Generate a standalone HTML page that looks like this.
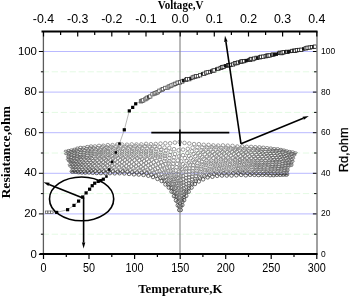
<!DOCTYPE html>
<html><head><meta charset="utf-8"><style>html,body{margin:0;padding:0;background:#fff;overflow:hidden}svg{display:block}</style></head>
<body><svg width="350" height="296" viewBox="0 0 350 296">
<rect width="350" height="296" fill="#fff"/>
<line x1="44" x2="316" y1="213.9" y2="213.9" stroke="#b9b9ff" stroke-width="1"/>
<line x1="44" x2="316" y1="173.3" y2="173.3" stroke="#b9b9ff" stroke-width="1"/>
<line x1="44" x2="316" y1="132.7" y2="132.7" stroke="#b9b9ff" stroke-width="1"/>
<line x1="44" x2="316" y1="92.1" y2="92.1" stroke="#b9b9ff" stroke-width="1"/>
<line x1="44" x2="316" y1="51.5" y2="51.5" stroke="#b9b9ff" stroke-width="1"/>
<line x1="44" x2="316" y1="234.2" y2="234.2" stroke="#e4fae4" stroke-width="1" stroke-dasharray="6.3 2.67" stroke-dashoffset="1.27"/>
<line x1="44" x2="316" y1="193.6" y2="193.6" stroke="#e4fae4" stroke-width="1" stroke-dasharray="6.3 2.67" stroke-dashoffset="1.27"/>
<line x1="44" x2="316" y1="153.0" y2="153.0" stroke="#e4fae4" stroke-width="1" stroke-dasharray="6.3 2.67" stroke-dashoffset="1.27"/>
<line x1="44" x2="316" y1="112.4" y2="112.4" stroke="#e4fae4" stroke-width="1" stroke-dasharray="6.3 2.67" stroke-dashoffset="1.27"/>
<line x1="44" x2="316" y1="71.8" y2="71.8" stroke="#e4fae4" stroke-width="1" stroke-dasharray="6.3 2.67" stroke-dashoffset="1.27"/>
<ellipse cx="65.9" cy="151.1" rx="1.85" ry="0.90" fill="none" stroke="#5e5e5e" stroke-width="0.75"/>
<ellipse cx="68.7" cy="150.3" rx="1.85" ry="0.90" fill="none" stroke="#5e5e5e" stroke-width="0.75"/>
<ellipse cx="71.5" cy="149.8" rx="1.85" ry="0.94" fill="none" stroke="#5e5e5e" stroke-width="0.75"/>
<ellipse cx="74.4" cy="149.2" rx="1.85" ry="1.00" fill="none" stroke="#5e5e5e" stroke-width="0.75"/>
<ellipse cx="77.4" cy="148.1" rx="1.85" ry="1.08" fill="none" stroke="#5e5e5e" stroke-width="0.75"/>
<ellipse cx="80.5" cy="147.4" rx="1.85" ry="1.15" fill="none" stroke="#5e5e5e" stroke-width="0.75"/>
<ellipse cx="83.8" cy="147.5" rx="1.85" ry="1.23" fill="none" stroke="#666" stroke-width="0.75"/>
<ellipse cx="87.3" cy="146.7" rx="1.85" ry="1.31" fill="none" stroke="#666" stroke-width="0.75"/>
<ellipse cx="91.0" cy="146.2" rx="1.85" ry="1.40" fill="none" stroke="#666" stroke-width="0.75"/>
<ellipse cx="94.9" cy="146.2" rx="1.85" ry="1.49" fill="none" stroke="#727272" stroke-width="0.75"/>
<ellipse cx="99.0" cy="145.7" rx="1.85" ry="1.59" fill="none" stroke="#727272" stroke-width="0.75"/>
<ellipse cx="103.3" cy="145.7" rx="1.85" ry="1.69" fill="none" stroke="#727272" stroke-width="0.75"/>
<ellipse cx="107.8" cy="145.2" rx="1.85" ry="1.80" fill="none" stroke="#727272" stroke-width="0.75"/>
<circle cx="112.5" cy="145.1" r="1.8" fill="none" stroke="#7c7c7c" stroke-width="0.75"/>
<circle cx="117.3" cy="144.5" r="1.8" fill="none" stroke="#7c7c7c" stroke-width="0.75"/>
<circle cx="122.1" cy="144.6" r="1.8" fill="none" stroke="#7c7c7c" stroke-width="0.75"/>
<circle cx="126.9" cy="144.7" r="1.8" fill="none" stroke="#7c7c7c" stroke-width="0.75"/>
<circle cx="131.7" cy="144.4" r="1.8" fill="none" stroke="#7c7c7c" stroke-width="0.75"/>
<circle cx="136.5" cy="144.5" r="1.8" fill="none" stroke="#7c7c7c" stroke-width="0.75"/>
<circle cx="141.3" cy="144.4" r="1.8" fill="none" stroke="#7c7c7c" stroke-width="0.75"/>
<circle cx="146.1" cy="143.9" r="1.8" fill="none" stroke="#7c7c7c" stroke-width="0.75"/>
<circle cx="150.9" cy="144.2" r="1.8" fill="none" stroke="#7c7c7c" stroke-width="0.75"/>
<circle cx="155.7" cy="144.0" r="1.8" fill="none" stroke="#7c7c7c" stroke-width="0.75"/>
<circle cx="160.5" cy="143.6" r="1.8" fill="none" stroke="#7c7c7c" stroke-width="0.75"/>
<circle cx="165.3" cy="143.2" r="1.8" fill="none" stroke="#7c7c7c" stroke-width="0.75"/>
<circle cx="170.1" cy="143.3" r="1.8" fill="none" stroke="#7c7c7c" stroke-width="0.75"/>
<circle cx="174.9" cy="142.6" r="1.8" fill="none" stroke="#7c7c7c" stroke-width="0.75"/>
<circle cx="179.7" cy="142.0" r="1.8" fill="none" stroke="#7c7c7c" stroke-width="0.75"/>
<circle cx="184.5" cy="142.9" r="1.8" fill="none" stroke="#7c7c7c" stroke-width="0.75"/>
<circle cx="189.3" cy="143.5" r="1.8" fill="none" stroke="#7c7c7c" stroke-width="0.75"/>
<circle cx="194.1" cy="144.1" r="1.8" fill="none" stroke="#7c7c7c" stroke-width="0.75"/>
<circle cx="198.9" cy="144.2" r="1.8" fill="none" stroke="#7c7c7c" stroke-width="0.75"/>
<circle cx="203.7" cy="144.8" r="1.8" fill="none" stroke="#7c7c7c" stroke-width="0.75"/>
<circle cx="208.5" cy="144.9" r="1.8" fill="none" stroke="#7c7c7c" stroke-width="0.75"/>
<circle cx="213.3" cy="145.4" r="1.8" fill="none" stroke="#7c7c7c" stroke-width="0.75"/>
<circle cx="218.1" cy="145.6" r="1.8" fill="none" stroke="#7c7c7c" stroke-width="0.75"/>
<circle cx="222.9" cy="145.4" r="1.8" fill="none" stroke="#7c7c7c" stroke-width="0.75"/>
<circle cx="227.7" cy="145.7" r="1.8" fill="none" stroke="#7c7c7c" stroke-width="0.75"/>
<circle cx="232.5" cy="145.9" r="1.8" fill="none" stroke="#7c7c7c" stroke-width="0.75"/>
<ellipse cx="237.3" cy="146.6" rx="1.85" ry="1.81" fill="none" stroke="#727272" stroke-width="0.75"/>
<ellipse cx="242.1" cy="146.4" rx="1.85" ry="1.72" fill="none" stroke="#727272" stroke-width="0.75"/>
<ellipse cx="246.7" cy="146.7" rx="1.85" ry="1.63" fill="none" stroke="#727272" stroke-width="0.75"/>
<ellipse cx="251.1" cy="146.7" rx="1.85" ry="1.54" fill="none" stroke="#727272" stroke-width="0.75"/>
<ellipse cx="255.3" cy="147.0" rx="1.85" ry="1.46" fill="none" stroke="#666" stroke-width="0.75"/>
<ellipse cx="259.4" cy="147.1" rx="1.85" ry="1.39" fill="none" stroke="#666" stroke-width="0.75"/>
<ellipse cx="263.3" cy="147.4" rx="1.85" ry="1.31" fill="none" stroke="#666" stroke-width="0.75"/>
<ellipse cx="267.1" cy="147.8" rx="1.85" ry="1.24" fill="none" stroke="#666" stroke-width="0.75"/>
<ellipse cx="270.7" cy="148.1" rx="1.85" ry="1.17" fill="none" stroke="#5e5e5e" stroke-width="0.75"/>
<ellipse cx="274.2" cy="148.6" rx="1.85" ry="1.11" fill="none" stroke="#5e5e5e" stroke-width="0.75"/>
<ellipse cx="277.6" cy="148.7" rx="1.85" ry="1.04" fill="none" stroke="#5e5e5e" stroke-width="0.75"/>
<ellipse cx="280.8" cy="149.3" rx="1.85" ry="0.98" fill="none" stroke="#5e5e5e" stroke-width="0.75"/>
<ellipse cx="283.8" cy="149.9" rx="1.85" ry="0.92" fill="none" stroke="#5e5e5e" stroke-width="0.75"/>
<ellipse cx="286.7" cy="150.7" rx="1.85" ry="0.90" fill="none" stroke="#5e5e5e" stroke-width="0.75"/>
<ellipse cx="289.6" cy="151.3" rx="1.85" ry="0.90" fill="none" stroke="#5e5e5e" stroke-width="0.75"/>
<ellipse cx="292.5" cy="151.7" rx="1.85" ry="0.90" fill="none" stroke="#5e5e5e" stroke-width="0.75"/>
<ellipse cx="295.4" cy="152.7" rx="1.85" ry="0.90" fill="none" stroke="#5e5e5e" stroke-width="0.75"/>
<ellipse cx="68.1" cy="152.3" rx="1.85" ry="0.90" fill="none" stroke="#5e5e5e" stroke-width="0.75"/>
<ellipse cx="70.9" cy="151.4" rx="1.85" ry="0.92" fill="none" stroke="#5e5e5e" stroke-width="0.75"/>
<ellipse cx="73.7" cy="150.9" rx="1.85" ry="0.99" fill="none" stroke="#5e5e5e" stroke-width="0.75"/>
<ellipse cx="76.7" cy="150.0" rx="1.85" ry="1.06" fill="none" stroke="#5e5e5e" stroke-width="0.75"/>
<ellipse cx="79.8" cy="149.7" rx="1.85" ry="1.13" fill="none" stroke="#5e5e5e" stroke-width="0.75"/>
<ellipse cx="83.1" cy="149.1" rx="1.85" ry="1.21" fill="none" stroke="#666" stroke-width="0.75"/>
<ellipse cx="86.6" cy="148.5" rx="1.85" ry="1.30" fill="none" stroke="#666" stroke-width="0.75"/>
<ellipse cx="90.3" cy="148.0" rx="1.85" ry="1.38" fill="none" stroke="#666" stroke-width="0.75"/>
<ellipse cx="94.1" cy="148.0" rx="1.85" ry="1.47" fill="none" stroke="#727272" stroke-width="0.75"/>
<ellipse cx="98.2" cy="147.9" rx="1.85" ry="1.57" fill="none" stroke="#727272" stroke-width="0.75"/>
<ellipse cx="102.5" cy="147.1" rx="1.85" ry="1.67" fill="none" stroke="#727272" stroke-width="0.75"/>
<ellipse cx="107.0" cy="147.3" rx="1.85" ry="1.78" fill="none" stroke="#727272" stroke-width="0.75"/>
<circle cx="111.7" cy="146.9" r="1.8" fill="none" stroke="#7c7c7c" stroke-width="0.75"/>
<circle cx="116.5" cy="146.5" r="1.8" fill="none" stroke="#7c7c7c" stroke-width="0.75"/>
<circle cx="121.3" cy="146.4" r="1.8" fill="none" stroke="#7c7c7c" stroke-width="0.75"/>
<circle cx="126.1" cy="146.6" r="1.8" fill="none" stroke="#7c7c7c" stroke-width="0.75"/>
<circle cx="130.9" cy="146.7" r="1.8" fill="none" stroke="#7c7c7c" stroke-width="0.75"/>
<circle cx="135.7" cy="146.1" r="1.8" fill="none" stroke="#7c7c7c" stroke-width="0.75"/>
<circle cx="140.5" cy="146.5" r="1.8" fill="none" stroke="#7c7c7c" stroke-width="0.75"/>
<circle cx="145.3" cy="146.2" r="1.8" fill="none" stroke="#7c7c7c" stroke-width="0.75"/>
<circle cx="150.1" cy="146.6" r="1.8" fill="none" stroke="#7c7c7c" stroke-width="0.75"/>
<circle cx="154.9" cy="146.5" r="1.8" fill="none" stroke="#7c7c7c" stroke-width="0.75"/>
<circle cx="159.7" cy="147.1" r="1.8" fill="none" stroke="#7c7c7c" stroke-width="0.75"/>
<circle cx="164.5" cy="147.6" r="1.8" fill="none" stroke="#7c7c7c" stroke-width="0.75"/>
<circle cx="169.3" cy="147.9" r="1.8" fill="none" stroke="#7c7c7c" stroke-width="0.75"/>
<circle cx="174.0" cy="149.2" r="1.8" fill="none" stroke="#7c7c7c" stroke-width="0.75"/>
<circle cx="178.6" cy="150.3" r="1.8" fill="none" stroke="#7c7c7c" stroke-width="0.75"/>
<circle cx="183.1" cy="149.6" r="1.8" fill="none" stroke="#7c7c7c" stroke-width="0.75"/>
<circle cx="187.8" cy="148.8" r="1.8" fill="none" stroke="#7c7c7c" stroke-width="0.75"/>
<circle cx="192.6" cy="147.7" r="1.8" fill="none" stroke="#7c7c7c" stroke-width="0.75"/>
<circle cx="197.4" cy="147.4" r="1.8" fill="none" stroke="#7c7c7c" stroke-width="0.75"/>
<circle cx="202.2" cy="147.4" r="1.8" fill="none" stroke="#7c7c7c" stroke-width="0.75"/>
<circle cx="207.0" cy="147.5" r="1.8" fill="none" stroke="#7c7c7c" stroke-width="0.75"/>
<circle cx="211.8" cy="147.2" r="1.8" fill="none" stroke="#7c7c7c" stroke-width="0.75"/>
<circle cx="216.6" cy="147.3" r="1.8" fill="none" stroke="#7c7c7c" stroke-width="0.75"/>
<circle cx="221.4" cy="147.9" r="1.8" fill="none" stroke="#7c7c7c" stroke-width="0.75"/>
<circle cx="226.2" cy="147.7" r="1.8" fill="none" stroke="#7c7c7c" stroke-width="0.75"/>
<circle cx="231.0" cy="148.3" r="1.8" fill="none" stroke="#7c7c7c" stroke-width="0.75"/>
<ellipse cx="235.8" cy="148.4" rx="1.85" ry="1.83" fill="none" stroke="#727272" stroke-width="0.75"/>
<ellipse cx="240.6" cy="148.3" rx="1.85" ry="1.74" fill="none" stroke="#727272" stroke-width="0.75"/>
<ellipse cx="245.2" cy="148.5" rx="1.85" ry="1.66" fill="none" stroke="#727272" stroke-width="0.75"/>
<ellipse cx="249.7" cy="148.7" rx="1.85" ry="1.57" fill="none" stroke="#727272" stroke-width="0.75"/>
<ellipse cx="254.0" cy="148.9" rx="1.85" ry="1.49" fill="none" stroke="#727272" stroke-width="0.75"/>
<ellipse cx="258.1" cy="149.1" rx="1.85" ry="1.41" fill="none" stroke="#666" stroke-width="0.75"/>
<ellipse cx="262.1" cy="149.3" rx="1.85" ry="1.33" fill="none" stroke="#666" stroke-width="0.75"/>
<ellipse cx="265.9" cy="149.6" rx="1.85" ry="1.26" fill="none" stroke="#666" stroke-width="0.75"/>
<ellipse cx="269.6" cy="150.1" rx="1.85" ry="1.19" fill="none" stroke="#666" stroke-width="0.75"/>
<ellipse cx="273.1" cy="150.1" rx="1.85" ry="1.13" fill="none" stroke="#5e5e5e" stroke-width="0.75"/>
<ellipse cx="276.5" cy="150.3" rx="1.85" ry="1.06" fill="none" stroke="#5e5e5e" stroke-width="0.75"/>
<ellipse cx="279.8" cy="150.7" rx="1.85" ry="1.00" fill="none" stroke="#5e5e5e" stroke-width="0.75"/>
<ellipse cx="282.9" cy="151.1" rx="1.85" ry="0.94" fill="none" stroke="#5e5e5e" stroke-width="0.75"/>
<ellipse cx="285.9" cy="151.8" rx="1.85" ry="0.90" fill="none" stroke="#5e5e5e" stroke-width="0.75"/>
<ellipse cx="288.8" cy="152.9" rx="1.85" ry="0.90" fill="none" stroke="#5e5e5e" stroke-width="0.75"/>
<ellipse cx="291.7" cy="153.3" rx="1.85" ry="0.90" fill="none" stroke="#5e5e5e" stroke-width="0.75"/>
<ellipse cx="294.6" cy="154.0" rx="1.85" ry="0.90" fill="none" stroke="#5e5e5e" stroke-width="0.75"/>
<ellipse cx="66.2" cy="153.8" rx="1.85" ry="0.90" fill="none" stroke="#5e5e5e" stroke-width="0.75"/>
<ellipse cx="69.0" cy="153.4" rx="1.85" ry="0.90" fill="none" stroke="#5e5e5e" stroke-width="0.75"/>
<ellipse cx="71.8" cy="152.5" rx="1.85" ry="0.94" fill="none" stroke="#5e5e5e" stroke-width="0.75"/>
<ellipse cx="74.7" cy="152.2" rx="1.85" ry="1.01" fill="none" stroke="#5e5e5e" stroke-width="0.75"/>
<ellipse cx="77.7" cy="151.7" rx="1.85" ry="1.08" fill="none" stroke="#5e5e5e" stroke-width="0.75"/>
<ellipse cx="80.9" cy="150.8" rx="1.85" ry="1.16" fill="none" stroke="#5e5e5e" stroke-width="0.75"/>
<ellipse cx="84.3" cy="150.7" rx="1.85" ry="1.24" fill="none" stroke="#666" stroke-width="0.75"/>
<ellipse cx="87.8" cy="150.2" rx="1.85" ry="1.32" fill="none" stroke="#666" stroke-width="0.75"/>
<ellipse cx="91.5" cy="150.0" rx="1.85" ry="1.41" fill="none" stroke="#666" stroke-width="0.75"/>
<ellipse cx="95.4" cy="149.4" rx="1.85" ry="1.50" fill="none" stroke="#727272" stroke-width="0.75"/>
<ellipse cx="99.5" cy="149.5" rx="1.85" ry="1.60" fill="none" stroke="#727272" stroke-width="0.75"/>
<ellipse cx="103.8" cy="149.3" rx="1.85" ry="1.70" fill="none" stroke="#727272" stroke-width="0.75"/>
<ellipse cx="108.3" cy="148.7" rx="1.85" ry="1.81" fill="none" stroke="#727272" stroke-width="0.75"/>
<circle cx="113.1" cy="148.5" r="1.8" fill="none" stroke="#7c7c7c" stroke-width="0.75"/>
<circle cx="117.9" cy="148.7" r="1.8" fill="none" stroke="#7c7c7c" stroke-width="0.75"/>
<circle cx="122.7" cy="148.7" r="1.8" fill="none" stroke="#7c7c7c" stroke-width="0.75"/>
<circle cx="127.5" cy="148.3" r="1.8" fill="none" stroke="#7c7c7c" stroke-width="0.75"/>
<circle cx="132.3" cy="148.4" r="1.8" fill="none" stroke="#7c7c7c" stroke-width="0.75"/>
<circle cx="137.1" cy="148.5" r="1.8" fill="none" stroke="#7c7c7c" stroke-width="0.75"/>
<circle cx="141.9" cy="148.4" r="1.8" fill="none" stroke="#7c7c7c" stroke-width="0.75"/>
<circle cx="146.7" cy="148.5" r="1.8" fill="none" stroke="#7c7c7c" stroke-width="0.75"/>
<circle cx="151.5" cy="148.7" r="1.8" fill="none" stroke="#7c7c7c" stroke-width="0.75"/>
<circle cx="156.3" cy="149.1" r="1.8" fill="none" stroke="#7c7c7c" stroke-width="0.75"/>
<circle cx="161.1" cy="149.8" r="1.8" fill="none" stroke="#7c7c7c" stroke-width="0.75"/>
<circle cx="165.9" cy="150.5" r="1.8" fill="none" stroke="#7c7c7c" stroke-width="0.75"/>
<circle cx="170.6" cy="151.9" r="1.8" fill="none" stroke="#7c7c7c" stroke-width="0.75"/>
<circle cx="175.0" cy="154.0" r="1.8" fill="none" stroke="#7c7c7c" stroke-width="0.75"/>
<circle cx="179.1" cy="156.3" r="1.8" fill="none" stroke="#7c7c7c" stroke-width="0.75"/>
<circle cx="183.0" cy="155.2" r="1.8" fill="none" stroke="#7c7c7c" stroke-width="0.75"/>
<circle cx="187.3" cy="153.1" r="1.8" fill="none" stroke="#7c7c7c" stroke-width="0.75"/>
<circle cx="191.9" cy="151.4" r="1.8" fill="none" stroke="#7c7c7c" stroke-width="0.75"/>
<circle cx="196.7" cy="150.4" r="1.8" fill="none" stroke="#7c7c7c" stroke-width="0.75"/>
<circle cx="201.5" cy="150.2" r="1.8" fill="none" stroke="#7c7c7c" stroke-width="0.75"/>
<circle cx="206.3" cy="149.6" r="1.8" fill="none" stroke="#7c7c7c" stroke-width="0.75"/>
<circle cx="211.1" cy="149.5" r="1.8" fill="none" stroke="#7c7c7c" stroke-width="0.75"/>
<circle cx="215.9" cy="149.6" r="1.8" fill="none" stroke="#7c7c7c" stroke-width="0.75"/>
<circle cx="220.7" cy="149.8" r="1.8" fill="none" stroke="#7c7c7c" stroke-width="0.75"/>
<circle cx="225.5" cy="149.6" r="1.8" fill="none" stroke="#7c7c7c" stroke-width="0.75"/>
<circle cx="230.3" cy="149.8" r="1.8" fill="none" stroke="#7c7c7c" stroke-width="0.75"/>
<ellipse cx="235.1" cy="150.0" rx="1.85" ry="1.85" fill="none" stroke="#727272" stroke-width="0.75"/>
<ellipse cx="239.9" cy="150.4" rx="1.85" ry="1.76" fill="none" stroke="#727272" stroke-width="0.75"/>
<ellipse cx="244.6" cy="150.4" rx="1.85" ry="1.67" fill="none" stroke="#727272" stroke-width="0.75"/>
<ellipse cx="249.1" cy="150.8" rx="1.85" ry="1.58" fill="none" stroke="#727272" stroke-width="0.75"/>
<ellipse cx="253.4" cy="150.5" rx="1.85" ry="1.50" fill="none" stroke="#727272" stroke-width="0.75"/>
<ellipse cx="257.5" cy="150.8" rx="1.85" ry="1.42" fill="none" stroke="#666" stroke-width="0.75"/>
<ellipse cx="261.5" cy="151.1" rx="1.85" ry="1.35" fill="none" stroke="#666" stroke-width="0.75"/>
<ellipse cx="265.3" cy="151.6" rx="1.85" ry="1.27" fill="none" stroke="#666" stroke-width="0.75"/>
<ellipse cx="269.0" cy="151.6" rx="1.85" ry="1.20" fill="none" stroke="#666" stroke-width="0.75"/>
<ellipse cx="272.5" cy="151.7" rx="1.85" ry="1.14" fill="none" stroke="#5e5e5e" stroke-width="0.75"/>
<ellipse cx="275.9" cy="151.8" rx="1.85" ry="1.07" fill="none" stroke="#5e5e5e" stroke-width="0.75"/>
<ellipse cx="279.2" cy="152.3" rx="1.85" ry="1.01" fill="none" stroke="#5e5e5e" stroke-width="0.75"/>
<ellipse cx="282.3" cy="152.7" rx="1.85" ry="0.95" fill="none" stroke="#5e5e5e" stroke-width="0.75"/>
<ellipse cx="285.3" cy="153.7" rx="1.85" ry="0.90" fill="none" stroke="#5e5e5e" stroke-width="0.75"/>
<ellipse cx="288.2" cy="154.3" rx="1.85" ry="0.90" fill="none" stroke="#5e5e5e" stroke-width="0.75"/>
<ellipse cx="291.1" cy="154.6" rx="1.85" ry="0.90" fill="none" stroke="#5e5e5e" stroke-width="0.75"/>
<ellipse cx="294.0" cy="155.2" rx="1.85" ry="0.90" fill="none" stroke="#5e5e5e" stroke-width="0.75"/>
<ellipse cx="68.6" cy="155.0" rx="1.85" ry="0.90" fill="none" stroke="#5e5e5e" stroke-width="0.75"/>
<ellipse cx="71.4" cy="154.5" rx="1.85" ry="0.93" fill="none" stroke="#5e5e5e" stroke-width="0.75"/>
<ellipse cx="74.3" cy="153.7" rx="1.85" ry="1.00" fill="none" stroke="#5e5e5e" stroke-width="0.75"/>
<ellipse cx="77.3" cy="153.1" rx="1.85" ry="1.07" fill="none" stroke="#5e5e5e" stroke-width="0.75"/>
<ellipse cx="80.5" cy="152.6" rx="1.85" ry="1.15" fill="none" stroke="#5e5e5e" stroke-width="0.75"/>
<ellipse cx="83.9" cy="152.6" rx="1.85" ry="1.23" fill="none" stroke="#666" stroke-width="0.75"/>
<ellipse cx="87.4" cy="151.9" rx="1.85" ry="1.31" fill="none" stroke="#666" stroke-width="0.75"/>
<ellipse cx="91.1" cy="151.6" rx="1.85" ry="1.40" fill="none" stroke="#666" stroke-width="0.75"/>
<ellipse cx="95.0" cy="151.3" rx="1.85" ry="1.49" fill="none" stroke="#727272" stroke-width="0.75"/>
<ellipse cx="99.1" cy="151.1" rx="1.85" ry="1.59" fill="none" stroke="#727272" stroke-width="0.75"/>
<ellipse cx="103.4" cy="151.0" rx="1.85" ry="1.69" fill="none" stroke="#727272" stroke-width="0.75"/>
<ellipse cx="107.9" cy="151.1" rx="1.85" ry="1.80" fill="none" stroke="#727272" stroke-width="0.75"/>
<circle cx="112.6" cy="150.5" r="1.8" fill="none" stroke="#7c7c7c" stroke-width="0.75"/>
<circle cx="117.4" cy="150.2" r="1.8" fill="none" stroke="#7c7c7c" stroke-width="0.75"/>
<circle cx="122.2" cy="150.7" r="1.8" fill="none" stroke="#7c7c7c" stroke-width="0.75"/>
<circle cx="127.0" cy="150.6" r="1.8" fill="none" stroke="#7c7c7c" stroke-width="0.75"/>
<circle cx="131.8" cy="150.7" r="1.8" fill="none" stroke="#7c7c7c" stroke-width="0.75"/>
<circle cx="136.6" cy="150.4" r="1.8" fill="none" stroke="#7c7c7c" stroke-width="0.75"/>
<circle cx="141.4" cy="150.8" r="1.8" fill="none" stroke="#7c7c7c" stroke-width="0.75"/>
<circle cx="146.2" cy="151.0" r="1.8" fill="none" stroke="#7c7c7c" stroke-width="0.75"/>
<circle cx="151.0" cy="150.9" r="1.8" fill="none" stroke="#7c7c7c" stroke-width="0.75"/>
<circle cx="155.8" cy="151.6" r="1.8" fill="none" stroke="#7c7c7c" stroke-width="0.75"/>
<circle cx="160.6" cy="152.4" r="1.8" fill="none" stroke="#7c7c7c" stroke-width="0.75"/>
<circle cx="165.3" cy="153.5" r="1.8" fill="none" stroke="#7c7c7c" stroke-width="0.75"/>
<circle cx="169.8" cy="155.1" r="1.8" fill="none" stroke="#7c7c7c" stroke-width="0.75"/>
<circle cx="174.0" cy="157.3" r="1.8" fill="none" stroke="#7c7c7c" stroke-width="0.75"/>
<circle cx="177.8" cy="160.4" r="1.8" fill="none" stroke="#7c7c7c" stroke-width="0.75"/>
<circle cx="181.2" cy="161.3" r="1.8" fill="none" stroke="#7c7c7c" stroke-width="0.75"/>
<circle cx="184.9" cy="158.1" r="1.8" fill="none" stroke="#7c7c7c" stroke-width="0.75"/>
<circle cx="189.1" cy="155.9" r="1.8" fill="none" stroke="#7c7c7c" stroke-width="0.75"/>
<circle cx="193.6" cy="154.0" r="1.8" fill="none" stroke="#7c7c7c" stroke-width="0.75"/>
<circle cx="198.3" cy="153.2" r="1.8" fill="none" stroke="#7c7c7c" stroke-width="0.75"/>
<circle cx="203.1" cy="152.0" r="1.8" fill="none" stroke="#7c7c7c" stroke-width="0.75"/>
<circle cx="207.9" cy="152.2" r="1.8" fill="none" stroke="#7c7c7c" stroke-width="0.75"/>
<circle cx="212.7" cy="151.9" r="1.8" fill="none" stroke="#7c7c7c" stroke-width="0.75"/>
<circle cx="217.5" cy="152.0" r="1.8" fill="none" stroke="#7c7c7c" stroke-width="0.75"/>
<circle cx="222.3" cy="152.0" r="1.8" fill="none" stroke="#7c7c7c" stroke-width="0.75"/>
<circle cx="227.1" cy="152.1" r="1.8" fill="none" stroke="#7c7c7c" stroke-width="0.75"/>
<circle cx="231.9" cy="152.0" r="1.8" fill="none" stroke="#7c7c7c" stroke-width="0.75"/>
<ellipse cx="236.7" cy="151.8" rx="1.85" ry="1.82" fill="none" stroke="#727272" stroke-width="0.75"/>
<ellipse cx="241.5" cy="152.4" rx="1.85" ry="1.73" fill="none" stroke="#727272" stroke-width="0.75"/>
<ellipse cx="246.1" cy="152.2" rx="1.85" ry="1.64" fill="none" stroke="#727272" stroke-width="0.75"/>
<ellipse cx="250.5" cy="152.4" rx="1.85" ry="1.56" fill="none" stroke="#727272" stroke-width="0.75"/>
<ellipse cx="254.8" cy="152.7" rx="1.85" ry="1.47" fill="none" stroke="#727272" stroke-width="0.75"/>
<ellipse cx="258.9" cy="152.8" rx="1.85" ry="1.40" fill="none" stroke="#666" stroke-width="0.75"/>
<ellipse cx="262.8" cy="153.0" rx="1.85" ry="1.32" fill="none" stroke="#666" stroke-width="0.75"/>
<ellipse cx="266.6" cy="153.5" rx="1.85" ry="1.25" fill="none" stroke="#666" stroke-width="0.75"/>
<ellipse cx="270.2" cy="153.6" rx="1.85" ry="1.18" fill="none" stroke="#5e5e5e" stroke-width="0.75"/>
<ellipse cx="273.7" cy="153.6" rx="1.85" ry="1.11" fill="none" stroke="#5e5e5e" stroke-width="0.75"/>
<ellipse cx="277.1" cy="153.8" rx="1.85" ry="1.05" fill="none" stroke="#5e5e5e" stroke-width="0.75"/>
<ellipse cx="280.3" cy="154.4" rx="1.85" ry="0.99" fill="none" stroke="#5e5e5e" stroke-width="0.75"/>
<ellipse cx="283.4" cy="154.8" rx="1.85" ry="0.93" fill="none" stroke="#5e5e5e" stroke-width="0.75"/>
<ellipse cx="286.4" cy="155.6" rx="1.85" ry="0.90" fill="none" stroke="#5e5e5e" stroke-width="0.75"/>
<ellipse cx="289.3" cy="155.9" rx="1.85" ry="0.90" fill="none" stroke="#5e5e5e" stroke-width="0.75"/>
<ellipse cx="292.2" cy="156.4" rx="1.85" ry="0.90" fill="none" stroke="#5e5e5e" stroke-width="0.75"/>
<ellipse cx="68.4" cy="156.6" rx="1.85" ry="0.90" fill="none" stroke="#5e5e5e" stroke-width="0.75"/>
<ellipse cx="71.2" cy="155.7" rx="1.85" ry="0.93" fill="none" stroke="#5e5e5e" stroke-width="0.75"/>
<ellipse cx="74.1" cy="155.6" rx="1.85" ry="1.00" fill="none" stroke="#5e5e5e" stroke-width="0.75"/>
<ellipse cx="77.1" cy="155.2" rx="1.85" ry="1.07" fill="none" stroke="#5e5e5e" stroke-width="0.75"/>
<ellipse cx="80.3" cy="154.6" rx="1.85" ry="1.14" fill="none" stroke="#5e5e5e" stroke-width="0.75"/>
<ellipse cx="83.7" cy="154.3" rx="1.85" ry="1.22" fill="none" stroke="#666" stroke-width="0.75"/>
<ellipse cx="87.2" cy="153.5" rx="1.85" ry="1.31" fill="none" stroke="#666" stroke-width="0.75"/>
<ellipse cx="90.9" cy="153.5" rx="1.85" ry="1.40" fill="none" stroke="#666" stroke-width="0.75"/>
<ellipse cx="94.8" cy="153.4" rx="1.85" ry="1.49" fill="none" stroke="#727272" stroke-width="0.75"/>
<ellipse cx="98.9" cy="152.7" rx="1.85" ry="1.59" fill="none" stroke="#727272" stroke-width="0.75"/>
<ellipse cx="103.2" cy="152.7" rx="1.85" ry="1.69" fill="none" stroke="#727272" stroke-width="0.75"/>
<ellipse cx="107.7" cy="152.6" rx="1.85" ry="1.79" fill="none" stroke="#727272" stroke-width="0.75"/>
<circle cx="112.4" cy="152.6" r="1.8" fill="none" stroke="#7c7c7c" stroke-width="0.75"/>
<circle cx="117.2" cy="152.4" r="1.8" fill="none" stroke="#7c7c7c" stroke-width="0.75"/>
<circle cx="122.0" cy="152.3" r="1.8" fill="none" stroke="#7c7c7c" stroke-width="0.75"/>
<circle cx="126.8" cy="152.5" r="1.8" fill="none" stroke="#7c7c7c" stroke-width="0.75"/>
<circle cx="131.6" cy="152.1" r="1.8" fill="none" stroke="#7c7c7c" stroke-width="0.75"/>
<circle cx="136.4" cy="152.2" r="1.8" fill="none" stroke="#7c7c7c" stroke-width="0.75"/>
<circle cx="141.2" cy="152.4" r="1.8" fill="none" stroke="#7c7c7c" stroke-width="0.75"/>
<circle cx="146.0" cy="152.6" r="1.8" fill="none" stroke="#7c7c7c" stroke-width="0.75"/>
<circle cx="150.8" cy="152.9" r="1.8" fill="none" stroke="#7c7c7c" stroke-width="0.75"/>
<circle cx="155.6" cy="154.0" r="1.8" fill="none" stroke="#7c7c7c" stroke-width="0.75"/>
<circle cx="160.4" cy="154.9" r="1.8" fill="none" stroke="#7c7c7c" stroke-width="0.75"/>
<circle cx="165.0" cy="155.8" r="1.8" fill="none" stroke="#7c7c7c" stroke-width="0.75"/>
<circle cx="169.4" cy="158.0" r="1.8" fill="none" stroke="#7c7c7c" stroke-width="0.75"/>
<circle cx="173.5" cy="160.6" r="1.8" fill="none" stroke="#7c7c7c" stroke-width="0.75"/>
<circle cx="177.0" cy="163.9" r="1.8" fill="none" stroke="#7c7c7c" stroke-width="0.75"/>
<circle cx="180.0" cy="167.7" r="1.8" fill="none" stroke="#7c7c7c" stroke-width="0.75"/>
<circle cx="183.1" cy="164.2" r="1.8" fill="none" stroke="#7c7c7c" stroke-width="0.75"/>
<circle cx="186.7" cy="160.9" r="1.8" fill="none" stroke="#7c7c7c" stroke-width="0.75"/>
<circle cx="190.8" cy="158.2" r="1.8" fill="none" stroke="#7c7c7c" stroke-width="0.75"/>
<circle cx="195.3" cy="156.2" r="1.8" fill="none" stroke="#7c7c7c" stroke-width="0.75"/>
<circle cx="200.0" cy="155.1" r="1.8" fill="none" stroke="#7c7c7c" stroke-width="0.75"/>
<circle cx="204.8" cy="154.2" r="1.8" fill="none" stroke="#7c7c7c" stroke-width="0.75"/>
<circle cx="209.6" cy="154.1" r="1.8" fill="none" stroke="#7c7c7c" stroke-width="0.75"/>
<circle cx="214.4" cy="154.0" r="1.8" fill="none" stroke="#7c7c7c" stroke-width="0.75"/>
<circle cx="219.2" cy="153.7" r="1.8" fill="none" stroke="#7c7c7c" stroke-width="0.75"/>
<circle cx="224.0" cy="153.5" r="1.8" fill="none" stroke="#7c7c7c" stroke-width="0.75"/>
<circle cx="228.8" cy="153.6" r="1.8" fill="none" stroke="#7c7c7c" stroke-width="0.75"/>
<circle cx="233.6" cy="153.8" r="1.8" fill="none" stroke="#7c7c7c" stroke-width="0.75"/>
<ellipse cx="238.4" cy="154.1" rx="1.85" ry="1.79" fill="none" stroke="#727272" stroke-width="0.75"/>
<ellipse cx="243.1" cy="154.3" rx="1.85" ry="1.70" fill="none" stroke="#727272" stroke-width="0.75"/>
<ellipse cx="247.6" cy="154.2" rx="1.85" ry="1.61" fill="none" stroke="#727272" stroke-width="0.75"/>
<ellipse cx="252.0" cy="154.6" rx="1.85" ry="1.53" fill="none" stroke="#727272" stroke-width="0.75"/>
<ellipse cx="256.2" cy="154.6" rx="1.85" ry="1.45" fill="none" stroke="#666" stroke-width="0.75"/>
<ellipse cx="260.2" cy="154.7" rx="1.85" ry="1.37" fill="none" stroke="#666" stroke-width="0.75"/>
<ellipse cx="264.1" cy="154.9" rx="1.85" ry="1.30" fill="none" stroke="#666" stroke-width="0.75"/>
<ellipse cx="267.8" cy="155.2" rx="1.85" ry="1.23" fill="none" stroke="#666" stroke-width="0.75"/>
<ellipse cx="271.4" cy="155.5" rx="1.85" ry="1.16" fill="none" stroke="#5e5e5e" stroke-width="0.75"/>
<ellipse cx="274.9" cy="155.6" rx="1.85" ry="1.09" fill="none" stroke="#5e5e5e" stroke-width="0.75"/>
<ellipse cx="278.2" cy="155.9" rx="1.85" ry="1.03" fill="none" stroke="#5e5e5e" stroke-width="0.75"/>
<ellipse cx="281.4" cy="156.2" rx="1.85" ry="0.97" fill="none" stroke="#5e5e5e" stroke-width="0.75"/>
<ellipse cx="284.4" cy="156.6" rx="1.85" ry="0.91" fill="none" stroke="#5e5e5e" stroke-width="0.75"/>
<ellipse cx="287.3" cy="157.3" rx="1.85" ry="0.90" fill="none" stroke="#5e5e5e" stroke-width="0.75"/>
<ellipse cx="290.2" cy="157.9" rx="1.85" ry="0.90" fill="none" stroke="#5e5e5e" stroke-width="0.75"/>
<ellipse cx="293.1" cy="158.1" rx="1.85" ry="0.90" fill="none" stroke="#5e5e5e" stroke-width="0.75"/>
<ellipse cx="68.5" cy="157.8" rx="1.85" ry="0.90" fill="none" stroke="#5e5e5e" stroke-width="0.75"/>
<ellipse cx="71.3" cy="157.6" rx="1.85" ry="0.93" fill="none" stroke="#5e5e5e" stroke-width="0.75"/>
<ellipse cx="74.2" cy="157.2" rx="1.85" ry="1.00" fill="none" stroke="#5e5e5e" stroke-width="0.75"/>
<ellipse cx="77.2" cy="156.4" rx="1.85" ry="1.07" fill="none" stroke="#5e5e5e" stroke-width="0.75"/>
<ellipse cx="80.4" cy="156.3" rx="1.85" ry="1.15" fill="none" stroke="#5e5e5e" stroke-width="0.75"/>
<ellipse cx="83.8" cy="156.0" rx="1.85" ry="1.23" fill="none" stroke="#666" stroke-width="0.75"/>
<ellipse cx="87.3" cy="155.4" rx="1.85" ry="1.31" fill="none" stroke="#666" stroke-width="0.75"/>
<ellipse cx="91.0" cy="155.2" rx="1.85" ry="1.40" fill="none" stroke="#666" stroke-width="0.75"/>
<ellipse cx="94.9" cy="154.7" rx="1.85" ry="1.49" fill="none" stroke="#727272" stroke-width="0.75"/>
<ellipse cx="99.0" cy="155.0" rx="1.85" ry="1.59" fill="none" stroke="#727272" stroke-width="0.75"/>
<ellipse cx="103.3" cy="154.8" rx="1.85" ry="1.69" fill="none" stroke="#727272" stroke-width="0.75"/>
<ellipse cx="107.8" cy="154.8" rx="1.85" ry="1.80" fill="none" stroke="#727272" stroke-width="0.75"/>
<circle cx="112.5" cy="154.6" r="1.8" fill="none" stroke="#7c7c7c" stroke-width="0.75"/>
<circle cx="117.3" cy="154.4" r="1.8" fill="none" stroke="#7c7c7c" stroke-width="0.75"/>
<circle cx="122.1" cy="154.4" r="1.8" fill="none" stroke="#7c7c7c" stroke-width="0.75"/>
<circle cx="126.9" cy="154.3" r="1.8" fill="none" stroke="#7c7c7c" stroke-width="0.75"/>
<circle cx="131.7" cy="154.1" r="1.8" fill="none" stroke="#7c7c7c" stroke-width="0.75"/>
<circle cx="136.5" cy="154.5" r="1.8" fill="none" stroke="#7c7c7c" stroke-width="0.75"/>
<circle cx="141.3" cy="154.3" r="1.8" fill="none" stroke="#7c7c7c" stroke-width="0.75"/>
<circle cx="146.1" cy="154.7" r="1.8" fill="none" stroke="#7c7c7c" stroke-width="0.75"/>
<circle cx="150.9" cy="155.5" r="1.8" fill="none" stroke="#7c7c7c" stroke-width="0.75"/>
<circle cx="155.7" cy="155.8" r="1.8" fill="none" stroke="#7c7c7c" stroke-width="0.75"/>
<circle cx="160.4" cy="156.9" r="1.8" fill="none" stroke="#7c7c7c" stroke-width="0.75"/>
<circle cx="165.0" cy="158.5" r="1.8" fill="none" stroke="#7c7c7c" stroke-width="0.75"/>
<circle cx="169.3" cy="161.3" r="1.8" fill="none" stroke="#7c7c7c" stroke-width="0.75"/>
<circle cx="173.2" cy="163.8" r="1.8" fill="none" stroke="#7c7c7c" stroke-width="0.75"/>
<circle cx="176.5" cy="167.3" r="1.8" fill="none" stroke="#7c7c7c" stroke-width="0.75"/>
<circle cx="179.3" cy="171.7" r="1.8" fill="none" stroke="#7c7c7c" stroke-width="0.75"/>
<circle cx="182.0" cy="169.3" r="1.8" fill="none" stroke="#7c7c7c" stroke-width="0.75"/>
<circle cx="185.1" cy="166.0" r="1.8" fill="none" stroke="#7c7c7c" stroke-width="0.75"/>
<circle cx="188.8" cy="162.7" r="1.8" fill="none" stroke="#7c7c7c" stroke-width="0.75"/>
<circle cx="193.0" cy="160.3" r="1.8" fill="none" stroke="#7c7c7c" stroke-width="0.75"/>
<circle cx="197.5" cy="158.6" r="1.8" fill="none" stroke="#7c7c7c" stroke-width="0.75"/>
<circle cx="202.2" cy="157.2" r="1.8" fill="none" stroke="#7c7c7c" stroke-width="0.75"/>
<circle cx="207.0" cy="156.6" r="1.8" fill="none" stroke="#7c7c7c" stroke-width="0.75"/>
<circle cx="211.8" cy="155.7" r="1.8" fill="none" stroke="#7c7c7c" stroke-width="0.75"/>
<circle cx="216.6" cy="156.0" r="1.8" fill="none" stroke="#7c7c7c" stroke-width="0.75"/>
<circle cx="221.4" cy="155.8" r="1.8" fill="none" stroke="#7c7c7c" stroke-width="0.75"/>
<circle cx="226.2" cy="155.9" r="1.8" fill="none" stroke="#7c7c7c" stroke-width="0.75"/>
<circle cx="231.0" cy="155.6" r="1.8" fill="none" stroke="#7c7c7c" stroke-width="0.75"/>
<ellipse cx="235.8" cy="156.1" rx="1.85" ry="1.83" fill="none" stroke="#727272" stroke-width="0.75"/>
<ellipse cx="240.6" cy="156.3" rx="1.85" ry="1.74" fill="none" stroke="#727272" stroke-width="0.75"/>
<ellipse cx="245.2" cy="155.9" rx="1.85" ry="1.66" fill="none" stroke="#727272" stroke-width="0.75"/>
<ellipse cx="249.7" cy="156.2" rx="1.85" ry="1.57" fill="none" stroke="#727272" stroke-width="0.75"/>
<ellipse cx="254.0" cy="156.4" rx="1.85" ry="1.49" fill="none" stroke="#727272" stroke-width="0.75"/>
<ellipse cx="258.1" cy="156.7" rx="1.85" ry="1.41" fill="none" stroke="#666" stroke-width="0.75"/>
<ellipse cx="262.1" cy="156.5" rx="1.85" ry="1.33" fill="none" stroke="#666" stroke-width="0.75"/>
<ellipse cx="265.9" cy="156.7" rx="1.85" ry="1.26" fill="none" stroke="#666" stroke-width="0.75"/>
<ellipse cx="269.6" cy="157.0" rx="1.85" ry="1.19" fill="none" stroke="#666" stroke-width="0.75"/>
<ellipse cx="273.1" cy="157.4" rx="1.85" ry="1.13" fill="none" stroke="#5e5e5e" stroke-width="0.75"/>
<ellipse cx="276.5" cy="157.7" rx="1.85" ry="1.06" fill="none" stroke="#5e5e5e" stroke-width="0.75"/>
<ellipse cx="279.8" cy="157.6" rx="1.85" ry="1.00" fill="none" stroke="#5e5e5e" stroke-width="0.75"/>
<ellipse cx="282.9" cy="158.1" rx="1.85" ry="0.94" fill="none" stroke="#5e5e5e" stroke-width="0.75"/>
<ellipse cx="285.9" cy="158.6" rx="1.85" ry="0.90" fill="none" stroke="#5e5e5e" stroke-width="0.75"/>
<ellipse cx="288.8" cy="159.1" rx="1.85" ry="0.90" fill="none" stroke="#5e5e5e" stroke-width="0.75"/>
<ellipse cx="291.7" cy="159.6" rx="1.85" ry="0.90" fill="none" stroke="#5e5e5e" stroke-width="0.75"/>
<ellipse cx="68.1" cy="159.4" rx="1.85" ry="0.90" fill="none" stroke="#5e5e5e" stroke-width="0.75"/>
<ellipse cx="70.9" cy="159.3" rx="1.85" ry="0.92" fill="none" stroke="#5e5e5e" stroke-width="0.75"/>
<ellipse cx="73.8" cy="158.5" rx="1.85" ry="0.99" fill="none" stroke="#5e5e5e" stroke-width="0.75"/>
<ellipse cx="76.8" cy="158.3" rx="1.85" ry="1.06" fill="none" stroke="#5e5e5e" stroke-width="0.75"/>
<ellipse cx="80.0" cy="157.6" rx="1.85" ry="1.14" fill="none" stroke="#5e5e5e" stroke-width="0.75"/>
<ellipse cx="83.3" cy="157.6" rx="1.85" ry="1.22" fill="none" stroke="#666" stroke-width="0.75"/>
<ellipse cx="86.8" cy="157.4" rx="1.85" ry="1.30" fill="none" stroke="#666" stroke-width="0.75"/>
<ellipse cx="90.5" cy="157.1" rx="1.85" ry="1.39" fill="none" stroke="#666" stroke-width="0.75"/>
<ellipse cx="94.4" cy="156.8" rx="1.85" ry="1.48" fill="none" stroke="#727272" stroke-width="0.75"/>
<ellipse cx="98.5" cy="156.6" rx="1.85" ry="1.58" fill="none" stroke="#727272" stroke-width="0.75"/>
<ellipse cx="102.8" cy="156.6" rx="1.85" ry="1.68" fill="none" stroke="#727272" stroke-width="0.75"/>
<ellipse cx="107.3" cy="156.7" rx="1.85" ry="1.79" fill="none" stroke="#727272" stroke-width="0.75"/>
<circle cx="112.0" cy="156.1" r="1.8" fill="none" stroke="#7c7c7c" stroke-width="0.75"/>
<circle cx="116.8" cy="156.0" r="1.8" fill="none" stroke="#7c7c7c" stroke-width="0.75"/>
<circle cx="121.6" cy="156.3" r="1.8" fill="none" stroke="#7c7c7c" stroke-width="0.75"/>
<circle cx="126.4" cy="156.5" r="1.8" fill="none" stroke="#7c7c7c" stroke-width="0.75"/>
<circle cx="131.2" cy="156.3" r="1.8" fill="none" stroke="#7c7c7c" stroke-width="0.75"/>
<circle cx="136.0" cy="156.4" r="1.8" fill="none" stroke="#7c7c7c" stroke-width="0.75"/>
<circle cx="140.8" cy="156.8" r="1.8" fill="none" stroke="#7c7c7c" stroke-width="0.75"/>
<circle cx="145.6" cy="156.7" r="1.8" fill="none" stroke="#7c7c7c" stroke-width="0.75"/>
<circle cx="150.4" cy="157.3" r="1.8" fill="none" stroke="#7c7c7c" stroke-width="0.75"/>
<circle cx="155.2" cy="158.0" r="1.8" fill="none" stroke="#7c7c7c" stroke-width="0.75"/>
<circle cx="159.9" cy="159.4" r="1.8" fill="none" stroke="#7c7c7c" stroke-width="0.75"/>
<circle cx="164.4" cy="161.0" r="1.8" fill="none" stroke="#7c7c7c" stroke-width="0.75"/>
<circle cx="168.6" cy="163.3" r="1.8" fill="none" stroke="#7c7c7c" stroke-width="0.75"/>
<circle cx="172.4" cy="166.7" r="1.8" fill="none" stroke="#7c7c7c" stroke-width="0.75"/>
<circle cx="175.6" cy="170.4" r="1.8" fill="none" stroke="#7c7c7c" stroke-width="0.75"/>
<circle cx="178.4" cy="174.2" r="1.8" fill="none" stroke="#7c7c7c" stroke-width="0.75"/>
<circle cx="180.8" cy="175.8" r="1.8" fill="none" stroke="#7c7c7c" stroke-width="0.75"/>
<circle cx="183.4" cy="171.5" r="1.8" fill="none" stroke="#7c7c7c" stroke-width="0.75"/>
<circle cx="186.5" cy="168.1" r="1.8" fill="none" stroke="#7c7c7c" stroke-width="0.75"/>
<circle cx="190.2" cy="164.7" r="1.8" fill="none" stroke="#7c7c7c" stroke-width="0.75"/>
<circle cx="194.4" cy="162.0" r="1.8" fill="none" stroke="#7c7c7c" stroke-width="0.75"/>
<circle cx="198.9" cy="160.2" r="1.8" fill="none" stroke="#7c7c7c" stroke-width="0.75"/>
<circle cx="203.6" cy="158.9" r="1.8" fill="none" stroke="#7c7c7c" stroke-width="0.75"/>
<circle cx="208.4" cy="158.4" r="1.8" fill="none" stroke="#7c7c7c" stroke-width="0.75"/>
<circle cx="213.2" cy="158.0" r="1.8" fill="none" stroke="#7c7c7c" stroke-width="0.75"/>
<circle cx="218.0" cy="157.6" r="1.8" fill="none" stroke="#7c7c7c" stroke-width="0.75"/>
<circle cx="222.8" cy="157.6" r="1.8" fill="none" stroke="#7c7c7c" stroke-width="0.75"/>
<circle cx="227.6" cy="157.6" r="1.8" fill="none" stroke="#7c7c7c" stroke-width="0.75"/>
<circle cx="232.4" cy="157.9" r="1.8" fill="none" stroke="#7c7c7c" stroke-width="0.75"/>
<ellipse cx="237.2" cy="157.6" rx="1.85" ry="1.81" fill="none" stroke="#727272" stroke-width="0.75"/>
<ellipse cx="242.0" cy="158.3" rx="1.85" ry="1.72" fill="none" stroke="#727272" stroke-width="0.75"/>
<ellipse cx="246.6" cy="158.1" rx="1.85" ry="1.63" fill="none" stroke="#727272" stroke-width="0.75"/>
<ellipse cx="251.0" cy="158.2" rx="1.85" ry="1.55" fill="none" stroke="#727272" stroke-width="0.75"/>
<ellipse cx="255.2" cy="158.3" rx="1.85" ry="1.47" fill="none" stroke="#666" stroke-width="0.75"/>
<ellipse cx="259.3" cy="158.6" rx="1.85" ry="1.39" fill="none" stroke="#666" stroke-width="0.75"/>
<ellipse cx="263.2" cy="158.8" rx="1.85" ry="1.31" fill="none" stroke="#666" stroke-width="0.75"/>
<ellipse cx="267.0" cy="158.8" rx="1.85" ry="1.24" fill="none" stroke="#666" stroke-width="0.75"/>
<ellipse cx="270.6" cy="159.0" rx="1.85" ry="1.17" fill="none" stroke="#5e5e5e" stroke-width="0.75"/>
<ellipse cx="274.1" cy="159.3" rx="1.85" ry="1.11" fill="none" stroke="#5e5e5e" stroke-width="0.75"/>
<ellipse cx="277.5" cy="159.6" rx="1.85" ry="1.04" fill="none" stroke="#5e5e5e" stroke-width="0.75"/>
<ellipse cx="280.7" cy="159.5" rx="1.85" ry="0.98" fill="none" stroke="#5e5e5e" stroke-width="0.75"/>
<ellipse cx="283.8" cy="160.2" rx="1.85" ry="0.92" fill="none" stroke="#5e5e5e" stroke-width="0.75"/>
<ellipse cx="286.8" cy="160.8" rx="1.85" ry="0.90" fill="none" stroke="#5e5e5e" stroke-width="0.75"/>
<ellipse cx="289.7" cy="160.9" rx="1.85" ry="0.90" fill="none" stroke="#5e5e5e" stroke-width="0.75"/>
<ellipse cx="292.6" cy="161.2" rx="1.85" ry="0.90" fill="none" stroke="#5e5e5e" stroke-width="0.75"/>
<ellipse cx="68.9" cy="160.9" rx="1.85" ry="0.90" fill="none" stroke="#5e5e5e" stroke-width="0.75"/>
<ellipse cx="71.7" cy="160.5" rx="1.85" ry="0.94" fill="none" stroke="#5e5e5e" stroke-width="0.75"/>
<ellipse cx="74.6" cy="160.3" rx="1.85" ry="1.01" fill="none" stroke="#5e5e5e" stroke-width="0.75"/>
<ellipse cx="77.7" cy="159.9" rx="1.85" ry="1.08" fill="none" stroke="#5e5e5e" stroke-width="0.75"/>
<ellipse cx="80.9" cy="159.2" rx="1.85" ry="1.16" fill="none" stroke="#5e5e5e" stroke-width="0.75"/>
<ellipse cx="84.3" cy="159.0" rx="1.85" ry="1.24" fill="none" stroke="#666" stroke-width="0.75"/>
<ellipse cx="87.9" cy="158.8" rx="1.85" ry="1.33" fill="none" stroke="#666" stroke-width="0.75"/>
<ellipse cx="91.6" cy="158.5" rx="1.85" ry="1.41" fill="none" stroke="#666" stroke-width="0.75"/>
<ellipse cx="95.5" cy="158.7" rx="1.85" ry="1.51" fill="none" stroke="#727272" stroke-width="0.75"/>
<ellipse cx="99.6" cy="158.7" rx="1.85" ry="1.60" fill="none" stroke="#727272" stroke-width="0.75"/>
<ellipse cx="103.9" cy="158.6" rx="1.85" ry="1.71" fill="none" stroke="#727272" stroke-width="0.75"/>
<ellipse cx="108.4" cy="158.1" rx="1.85" ry="1.81" fill="none" stroke="#727272" stroke-width="0.75"/>
<circle cx="113.2" cy="158.4" r="1.8" fill="none" stroke="#7c7c7c" stroke-width="0.75"/>
<circle cx="118.0" cy="158.0" r="1.8" fill="none" stroke="#7c7c7c" stroke-width="0.75"/>
<circle cx="122.8" cy="158.1" r="1.8" fill="none" stroke="#7c7c7c" stroke-width="0.75"/>
<circle cx="127.6" cy="158.3" r="1.8" fill="none" stroke="#7c7c7c" stroke-width="0.75"/>
<circle cx="132.4" cy="158.0" r="1.8" fill="none" stroke="#7c7c7c" stroke-width="0.75"/>
<circle cx="137.2" cy="158.2" r="1.8" fill="none" stroke="#7c7c7c" stroke-width="0.75"/>
<circle cx="142.0" cy="158.9" r="1.8" fill="none" stroke="#7c7c7c" stroke-width="0.75"/>
<circle cx="146.8" cy="159.0" r="1.8" fill="none" stroke="#7c7c7c" stroke-width="0.75"/>
<circle cx="151.6" cy="159.7" r="1.8" fill="none" stroke="#7c7c7c" stroke-width="0.75"/>
<circle cx="156.4" cy="160.8" r="1.8" fill="none" stroke="#7c7c7c" stroke-width="0.75"/>
<circle cx="161.0" cy="162.3" r="1.8" fill="none" stroke="#7c7c7c" stroke-width="0.75"/>
<circle cx="165.4" cy="163.9" r="1.8" fill="none" stroke="#7c7c7c" stroke-width="0.75"/>
<circle cx="169.4" cy="166.8" r="1.8" fill="none" stroke="#7c7c7c" stroke-width="0.75"/>
<circle cx="172.9" cy="170.3" r="1.8" fill="none" stroke="#7c7c7c" stroke-width="0.75"/>
<circle cx="175.9" cy="174.2" r="1.8" fill="none" stroke="#7c7c7c" stroke-width="0.75"/>
<circle cx="178.4" cy="178.1" r="1.8" fill="none" stroke="#666" stroke-width="0.75"/>
<circle cx="180.6" cy="180.2" r="1.8" fill="none" stroke="#666" stroke-width="0.75"/>
<circle cx="183.0" cy="176.2" r="1.8" fill="none" stroke="#666" stroke-width="0.75"/>
<circle cx="185.8" cy="171.9" r="1.8" fill="none" stroke="#7c7c7c" stroke-width="0.75"/>
<circle cx="189.1" cy="168.5" r="1.8" fill="none" stroke="#7c7c7c" stroke-width="0.75"/>
<circle cx="193.0" cy="165.3" r="1.8" fill="none" stroke="#7c7c7c" stroke-width="0.75"/>
<circle cx="197.3" cy="163.2" r="1.8" fill="none" stroke="#7c7c7c" stroke-width="0.75"/>
<circle cx="201.9" cy="161.9" r="1.8" fill="none" stroke="#7c7c7c" stroke-width="0.75"/>
<circle cx="206.6" cy="160.6" r="1.8" fill="none" stroke="#7c7c7c" stroke-width="0.75"/>
<circle cx="211.4" cy="160.5" r="1.8" fill="none" stroke="#7c7c7c" stroke-width="0.75"/>
<circle cx="216.2" cy="160.2" r="1.8" fill="none" stroke="#7c7c7c" stroke-width="0.75"/>
<circle cx="221.0" cy="159.5" r="1.8" fill="none" stroke="#7c7c7c" stroke-width="0.75"/>
<circle cx="225.8" cy="160.0" r="1.8" fill="none" stroke="#7c7c7c" stroke-width="0.75"/>
<circle cx="230.6" cy="159.6" r="1.8" fill="none" stroke="#7c7c7c" stroke-width="0.75"/>
<ellipse cx="235.4" cy="159.9" rx="1.85" ry="1.84" fill="none" stroke="#727272" stroke-width="0.75"/>
<ellipse cx="240.2" cy="160.0" rx="1.85" ry="1.75" fill="none" stroke="#727272" stroke-width="0.75"/>
<ellipse cx="244.9" cy="159.8" rx="1.85" ry="1.66" fill="none" stroke="#727272" stroke-width="0.75"/>
<ellipse cx="249.4" cy="160.1" rx="1.85" ry="1.58" fill="none" stroke="#727272" stroke-width="0.75"/>
<ellipse cx="253.7" cy="160.2" rx="1.85" ry="1.49" fill="none" stroke="#727272" stroke-width="0.75"/>
<ellipse cx="257.8" cy="160.4" rx="1.85" ry="1.42" fill="none" stroke="#666" stroke-width="0.75"/>
<ellipse cx="261.8" cy="160.2" rx="1.85" ry="1.34" fill="none" stroke="#666" stroke-width="0.75"/>
<ellipse cx="265.6" cy="160.7" rx="1.85" ry="1.27" fill="none" stroke="#666" stroke-width="0.75"/>
<ellipse cx="269.3" cy="161.0" rx="1.85" ry="1.20" fill="none" stroke="#666" stroke-width="0.75"/>
<ellipse cx="272.8" cy="161.0" rx="1.85" ry="1.13" fill="none" stroke="#5e5e5e" stroke-width="0.75"/>
<ellipse cx="276.2" cy="161.1" rx="1.85" ry="1.07" fill="none" stroke="#5e5e5e" stroke-width="0.75"/>
<ellipse cx="279.5" cy="161.0" rx="1.85" ry="1.00" fill="none" stroke="#5e5e5e" stroke-width="0.75"/>
<ellipse cx="282.6" cy="161.6" rx="1.85" ry="0.95" fill="none" stroke="#5e5e5e" stroke-width="0.75"/>
<ellipse cx="285.6" cy="162.0" rx="1.85" ry="0.90" fill="none" stroke="#5e5e5e" stroke-width="0.75"/>
<ellipse cx="288.5" cy="162.6" rx="1.85" ry="0.90" fill="none" stroke="#5e5e5e" stroke-width="0.75"/>
<ellipse cx="291.4" cy="162.9" rx="1.85" ry="0.90" fill="none" stroke="#5e5e5e" stroke-width="0.75"/>
<ellipse cx="70.2" cy="161.9" rx="1.85" ry="0.90" fill="none" stroke="#5e5e5e" stroke-width="0.75"/>
<ellipse cx="73.0" cy="161.9" rx="1.85" ry="0.97" fill="none" stroke="#5e5e5e" stroke-width="0.75"/>
<ellipse cx="76.0" cy="161.6" rx="1.85" ry="1.04" fill="none" stroke="#5e5e5e" stroke-width="0.75"/>
<ellipse cx="79.1" cy="161.0" rx="1.85" ry="1.12" fill="none" stroke="#5e5e5e" stroke-width="0.75"/>
<ellipse cx="82.4" cy="161.2" rx="1.85" ry="1.19" fill="none" stroke="#666" stroke-width="0.75"/>
<ellipse cx="85.9" cy="160.9" rx="1.85" ry="1.28" fill="none" stroke="#666" stroke-width="0.75"/>
<ellipse cx="89.5" cy="160.4" rx="1.85" ry="1.36" fill="none" stroke="#666" stroke-width="0.75"/>
<ellipse cx="93.3" cy="160.7" rx="1.85" ry="1.45" fill="none" stroke="#666" stroke-width="0.75"/>
<ellipse cx="97.3" cy="160.1" rx="1.85" ry="1.55" fill="none" stroke="#727272" stroke-width="0.75"/>
<ellipse cx="101.5" cy="160.1" rx="1.85" ry="1.65" fill="none" stroke="#727272" stroke-width="0.75"/>
<ellipse cx="105.9" cy="160.3" rx="1.85" ry="1.75" fill="none" stroke="#727272" stroke-width="0.75"/>
<circle cx="110.5" cy="160.2" r="1.8" fill="none" stroke="#7c7c7c" stroke-width="0.75"/>
<circle cx="115.3" cy="160.1" r="1.8" fill="none" stroke="#7c7c7c" stroke-width="0.75"/>
<circle cx="120.1" cy="160.1" r="1.8" fill="none" stroke="#7c7c7c" stroke-width="0.75"/>
<circle cx="124.9" cy="160.0" r="1.8" fill="none" stroke="#7c7c7c" stroke-width="0.75"/>
<circle cx="129.7" cy="160.1" r="1.8" fill="none" stroke="#7c7c7c" stroke-width="0.75"/>
<circle cx="134.5" cy="160.1" r="1.8" fill="none" stroke="#7c7c7c" stroke-width="0.75"/>
<circle cx="139.3" cy="160.3" r="1.8" fill="none" stroke="#7c7c7c" stroke-width="0.75"/>
<circle cx="144.1" cy="161.0" r="1.8" fill="none" stroke="#7c7c7c" stroke-width="0.75"/>
<circle cx="148.9" cy="161.6" r="1.8" fill="none" stroke="#7c7c7c" stroke-width="0.75"/>
<circle cx="153.7" cy="162.3" r="1.8" fill="none" stroke="#7c7c7c" stroke-width="0.75"/>
<circle cx="158.4" cy="163.7" r="1.8" fill="none" stroke="#7c7c7c" stroke-width="0.75"/>
<circle cx="162.9" cy="165.3" r="1.8" fill="none" stroke="#7c7c7c" stroke-width="0.75"/>
<circle cx="167.1" cy="167.7" r="1.8" fill="none" stroke="#7c7c7c" stroke-width="0.75"/>
<circle cx="170.8" cy="171.0" r="1.8" fill="none" stroke="#7c7c7c" stroke-width="0.75"/>
<circle cx="174.0" cy="175.0" r="1.8" fill="none" stroke="#7c7c7c" stroke-width="0.75"/>
<circle cx="176.7" cy="178.7" r="1.8" fill="none" stroke="#666" stroke-width="0.75"/>
<circle cx="179.0" cy="183.4" r="1.8" fill="none" stroke="#666" stroke-width="0.75"/>
<circle cx="181.1" cy="183.1" r="1.8" fill="none" stroke="#666" stroke-width="0.75"/>
<circle cx="183.4" cy="179.1" r="1.8" fill="none" stroke="#666" stroke-width="0.75"/>
<circle cx="186.1" cy="174.8" r="1.8" fill="none" stroke="#7c7c7c" stroke-width="0.75"/>
<circle cx="189.3" cy="171.2" r="1.8" fill="none" stroke="#7c7c7c" stroke-width="0.75"/>
<circle cx="193.0" cy="168.2" r="1.8" fill="none" stroke="#7c7c7c" stroke-width="0.75"/>
<circle cx="197.2" cy="165.9" r="1.8" fill="none" stroke="#7c7c7c" stroke-width="0.75"/>
<circle cx="201.7" cy="164.3" r="1.8" fill="none" stroke="#7c7c7c" stroke-width="0.75"/>
<circle cx="206.4" cy="163.0" r="1.8" fill="none" stroke="#7c7c7c" stroke-width="0.75"/>
<circle cx="211.2" cy="162.6" r="1.8" fill="none" stroke="#7c7c7c" stroke-width="0.75"/>
<circle cx="216.0" cy="161.7" r="1.8" fill="none" stroke="#7c7c7c" stroke-width="0.75"/>
<circle cx="220.8" cy="161.6" r="1.8" fill="none" stroke="#7c7c7c" stroke-width="0.75"/>
<circle cx="225.6" cy="161.4" r="1.8" fill="none" stroke="#7c7c7c" stroke-width="0.75"/>
<circle cx="230.4" cy="161.4" r="1.8" fill="none" stroke="#7c7c7c" stroke-width="0.75"/>
<ellipse cx="235.2" cy="161.8" rx="1.85" ry="1.85" fill="none" stroke="#727272" stroke-width="0.75"/>
<ellipse cx="240.0" cy="161.9" rx="1.85" ry="1.76" fill="none" stroke="#727272" stroke-width="0.75"/>
<ellipse cx="244.7" cy="161.6" rx="1.85" ry="1.67" fill="none" stroke="#727272" stroke-width="0.75"/>
<ellipse cx="249.2" cy="161.7" rx="1.85" ry="1.58" fill="none" stroke="#727272" stroke-width="0.75"/>
<ellipse cx="253.5" cy="162.0" rx="1.85" ry="1.50" fill="none" stroke="#727272" stroke-width="0.75"/>
<ellipse cx="257.6" cy="162.3" rx="1.85" ry="1.42" fill="none" stroke="#666" stroke-width="0.75"/>
<ellipse cx="261.6" cy="162.4" rx="1.85" ry="1.34" fill="none" stroke="#666" stroke-width="0.75"/>
<ellipse cx="265.4" cy="162.6" rx="1.85" ry="1.27" fill="none" stroke="#666" stroke-width="0.75"/>
<ellipse cx="269.1" cy="162.6" rx="1.85" ry="1.20" fill="none" stroke="#666" stroke-width="0.75"/>
<ellipse cx="272.7" cy="162.5" rx="1.85" ry="1.13" fill="none" stroke="#5e5e5e" stroke-width="0.75"/>
<ellipse cx="276.1" cy="162.8" rx="1.85" ry="1.07" fill="none" stroke="#5e5e5e" stroke-width="0.75"/>
<ellipse cx="279.4" cy="162.8" rx="1.85" ry="1.01" fill="none" stroke="#5e5e5e" stroke-width="0.75"/>
<ellipse cx="282.5" cy="163.4" rx="1.85" ry="0.95" fill="none" stroke="#5e5e5e" stroke-width="0.75"/>
<ellipse cx="285.5" cy="163.8" rx="1.85" ry="0.90" fill="none" stroke="#5e5e5e" stroke-width="0.75"/>
<ellipse cx="288.4" cy="163.9" rx="1.85" ry="0.90" fill="none" stroke="#5e5e5e" stroke-width="0.75"/>
<ellipse cx="291.3" cy="164.2" rx="1.85" ry="0.90" fill="none" stroke="#5e5e5e" stroke-width="0.75"/>
<ellipse cx="71.2" cy="163.2" rx="1.85" ry="0.93" fill="none" stroke="#5e5e5e" stroke-width="0.75"/>
<ellipse cx="74.1" cy="163.4" rx="1.85" ry="1.00" fill="none" stroke="#5e5e5e" stroke-width="0.75"/>
<ellipse cx="77.1" cy="163.2" rx="1.85" ry="1.07" fill="none" stroke="#5e5e5e" stroke-width="0.75"/>
<ellipse cx="80.3" cy="163.0" rx="1.85" ry="1.14" fill="none" stroke="#5e5e5e" stroke-width="0.75"/>
<ellipse cx="83.7" cy="162.5" rx="1.85" ry="1.22" fill="none" stroke="#666" stroke-width="0.75"/>
<ellipse cx="87.2" cy="162.5" rx="1.85" ry="1.31" fill="none" stroke="#666" stroke-width="0.75"/>
<ellipse cx="90.9" cy="162.3" rx="1.85" ry="1.40" fill="none" stroke="#666" stroke-width="0.75"/>
<ellipse cx="94.8" cy="162.2" rx="1.85" ry="1.49" fill="none" stroke="#727272" stroke-width="0.75"/>
<ellipse cx="98.9" cy="162.4" rx="1.85" ry="1.59" fill="none" stroke="#727272" stroke-width="0.75"/>
<ellipse cx="103.2" cy="162.2" rx="1.85" ry="1.69" fill="none" stroke="#727272" stroke-width="0.75"/>
<ellipse cx="107.7" cy="161.9" rx="1.85" ry="1.79" fill="none" stroke="#727272" stroke-width="0.75"/>
<circle cx="112.4" cy="162.2" r="1.8" fill="none" stroke="#7c7c7c" stroke-width="0.75"/>
<circle cx="117.2" cy="161.9" r="1.8" fill="none" stroke="#7c7c7c" stroke-width="0.75"/>
<circle cx="122.0" cy="162.0" r="1.8" fill="none" stroke="#7c7c7c" stroke-width="0.75"/>
<circle cx="126.8" cy="162.2" r="1.8" fill="none" stroke="#7c7c7c" stroke-width="0.75"/>
<circle cx="131.6" cy="161.9" r="1.8" fill="none" stroke="#7c7c7c" stroke-width="0.75"/>
<circle cx="136.4" cy="162.5" r="1.8" fill="none" stroke="#7c7c7c" stroke-width="0.75"/>
<circle cx="141.2" cy="162.8" r="1.8" fill="none" stroke="#7c7c7c" stroke-width="0.75"/>
<circle cx="146.0" cy="163.1" r="1.8" fill="none" stroke="#7c7c7c" stroke-width="0.75"/>
<circle cx="150.8" cy="163.9" r="1.8" fill="none" stroke="#7c7c7c" stroke-width="0.75"/>
<circle cx="155.5" cy="164.9" r="1.8" fill="none" stroke="#7c7c7c" stroke-width="0.75"/>
<circle cx="160.1" cy="166.3" r="1.8" fill="none" stroke="#7c7c7c" stroke-width="0.75"/>
<circle cx="164.4" cy="168.6" r="1.8" fill="none" stroke="#7c7c7c" stroke-width="0.75"/>
<circle cx="168.3" cy="171.2" r="1.8" fill="none" stroke="#7c7c7c" stroke-width="0.75"/>
<circle cx="171.7" cy="174.9" r="1.8" fill="none" stroke="#7c7c7c" stroke-width="0.75"/>
<circle cx="174.6" cy="179.0" r="1.8" fill="none" stroke="#666" stroke-width="0.75"/>
<circle cx="177.1" cy="183.2" r="1.8" fill="none" stroke="#666" stroke-width="0.75"/>
<circle cx="179.2" cy="187.7" r="1.8" fill="none" stroke="#666" stroke-width="0.75"/>
<circle cx="181.2" cy="187.3" r="1.8" fill="none" stroke="#666" stroke-width="0.75"/>
<circle cx="183.4" cy="182.7" r="1.8" fill="none" stroke="#666" stroke-width="0.75"/>
<circle cx="186.0" cy="178.1" r="1.8" fill="none" stroke="#666" stroke-width="0.75"/>
<circle cx="189.0" cy="174.7" r="1.8" fill="none" stroke="#7c7c7c" stroke-width="0.75"/>
<circle cx="192.6" cy="171.2" r="1.8" fill="none" stroke="#7c7c7c" stroke-width="0.75"/>
<circle cx="196.7" cy="168.3" r="1.8" fill="none" stroke="#7c7c7c" stroke-width="0.75"/>
<circle cx="201.2" cy="166.5" r="1.8" fill="none" stroke="#7c7c7c" stroke-width="0.75"/>
<circle cx="205.9" cy="165.1" r="1.8" fill="none" stroke="#7c7c7c" stroke-width="0.75"/>
<circle cx="210.7" cy="164.2" r="1.8" fill="none" stroke="#7c7c7c" stroke-width="0.75"/>
<circle cx="215.5" cy="164.0" r="1.8" fill="none" stroke="#7c7c7c" stroke-width="0.75"/>
<circle cx="220.3" cy="164.0" r="1.8" fill="none" stroke="#7c7c7c" stroke-width="0.75"/>
<circle cx="225.1" cy="163.5" r="1.8" fill="none" stroke="#7c7c7c" stroke-width="0.75"/>
<circle cx="229.9" cy="163.8" r="1.8" fill="none" stroke="#7c7c7c" stroke-width="0.75"/>
<circle cx="234.7" cy="163.7" r="1.8" fill="none" stroke="#7c7c7c" stroke-width="0.75"/>
<ellipse cx="239.5" cy="163.4" rx="1.85" ry="1.77" fill="none" stroke="#727272" stroke-width="0.75"/>
<ellipse cx="244.2" cy="163.9" rx="1.85" ry="1.68" fill="none" stroke="#727272" stroke-width="0.75"/>
<ellipse cx="248.7" cy="163.9" rx="1.85" ry="1.59" fill="none" stroke="#727272" stroke-width="0.75"/>
<ellipse cx="253.0" cy="164.1" rx="1.85" ry="1.51" fill="none" stroke="#727272" stroke-width="0.75"/>
<ellipse cx="257.2" cy="164.1" rx="1.85" ry="1.43" fill="none" stroke="#666" stroke-width="0.75"/>
<ellipse cx="261.2" cy="164.2" rx="1.85" ry="1.35" fill="none" stroke="#666" stroke-width="0.75"/>
<ellipse cx="265.1" cy="164.1" rx="1.85" ry="1.28" fill="none" stroke="#666" stroke-width="0.75"/>
<ellipse cx="268.8" cy="164.6" rx="1.85" ry="1.21" fill="none" stroke="#666" stroke-width="0.75"/>
<ellipse cx="272.4" cy="164.8" rx="1.85" ry="1.14" fill="none" stroke="#5e5e5e" stroke-width="0.75"/>
<ellipse cx="275.8" cy="164.9" rx="1.85" ry="1.08" fill="none" stroke="#5e5e5e" stroke-width="0.75"/>
<ellipse cx="279.1" cy="164.8" rx="1.85" ry="1.01" fill="none" stroke="#5e5e5e" stroke-width="0.75"/>
<ellipse cx="282.3" cy="165.2" rx="1.85" ry="0.95" fill="none" stroke="#5e5e5e" stroke-width="0.75"/>
<ellipse cx="285.3" cy="165.4" rx="1.85" ry="0.90" fill="none" stroke="#5e5e5e" stroke-width="0.75"/>
<ellipse cx="288.2" cy="165.5" rx="1.85" ry="0.90" fill="none" stroke="#5e5e5e" stroke-width="0.75"/>
<ellipse cx="291.1" cy="165.7" rx="1.85" ry="0.90" fill="none" stroke="#5e5e5e" stroke-width="0.75"/>
<ellipse cx="69.8" cy="164.9" rx="1.85" ry="0.90" fill="none" stroke="#5e5e5e" stroke-width="0.75"/>
<ellipse cx="72.6" cy="164.7" rx="1.85" ry="0.96" fill="none" stroke="#5e5e5e" stroke-width="0.75"/>
<ellipse cx="75.6" cy="164.7" rx="1.85" ry="1.03" fill="none" stroke="#5e5e5e" stroke-width="0.75"/>
<ellipse cx="78.7" cy="164.6" rx="1.85" ry="1.11" fill="none" stroke="#5e5e5e" stroke-width="0.75"/>
<ellipse cx="82.0" cy="164.4" rx="1.85" ry="1.19" fill="none" stroke="#666" stroke-width="0.75"/>
<ellipse cx="85.4" cy="164.2" rx="1.85" ry="1.27" fill="none" stroke="#666" stroke-width="0.75"/>
<ellipse cx="89.0" cy="164.2" rx="1.85" ry="1.35" fill="none" stroke="#666" stroke-width="0.75"/>
<ellipse cx="92.8" cy="163.9" rx="1.85" ry="1.44" fill="none" stroke="#666" stroke-width="0.75"/>
<ellipse cx="96.8" cy="163.9" rx="1.85" ry="1.54" fill="none" stroke="#727272" stroke-width="0.75"/>
<ellipse cx="101.0" cy="164.1" rx="1.85" ry="1.64" fill="none" stroke="#727272" stroke-width="0.75"/>
<ellipse cx="105.4" cy="163.8" rx="1.85" ry="1.74" fill="none" stroke="#727272" stroke-width="0.75"/>
<circle cx="110.0" cy="163.7" r="1.8" fill="none" stroke="#7c7c7c" stroke-width="0.75"/>
<circle cx="114.8" cy="164.1" r="1.8" fill="none" stroke="#7c7c7c" stroke-width="0.75"/>
<circle cx="119.6" cy="164.0" r="1.8" fill="none" stroke="#7c7c7c" stroke-width="0.75"/>
<circle cx="124.4" cy="163.8" r="1.8" fill="none" stroke="#7c7c7c" stroke-width="0.75"/>
<circle cx="129.2" cy="164.0" r="1.8" fill="none" stroke="#7c7c7c" stroke-width="0.75"/>
<circle cx="134.0" cy="164.3" r="1.8" fill="none" stroke="#7c7c7c" stroke-width="0.75"/>
<circle cx="138.8" cy="164.6" r="1.8" fill="none" stroke="#7c7c7c" stroke-width="0.75"/>
<circle cx="143.6" cy="164.8" r="1.8" fill="none" stroke="#7c7c7c" stroke-width="0.75"/>
<circle cx="148.4" cy="165.2" r="1.8" fill="none" stroke="#7c7c7c" stroke-width="0.75"/>
<circle cx="153.2" cy="166.3" r="1.8" fill="none" stroke="#7c7c7c" stroke-width="0.75"/>
<circle cx="157.8" cy="168.0" r="1.8" fill="none" stroke="#7c7c7c" stroke-width="0.75"/>
<circle cx="162.2" cy="169.6" r="1.8" fill="none" stroke="#7c7c7c" stroke-width="0.75"/>
<circle cx="166.3" cy="172.5" r="1.8" fill="none" stroke="#7c7c7c" stroke-width="0.75"/>
<circle cx="169.9" cy="175.6" r="1.8" fill="none" stroke="#7c7c7c" stroke-width="0.75"/>
<circle cx="173.0" cy="179.5" r="1.8" fill="none" stroke="#666" stroke-width="0.75"/>
<circle cx="175.6" cy="183.7" r="1.8" fill="none" stroke="#666" stroke-width="0.75"/>
<circle cx="177.8" cy="188.3" r="1.8" fill="none" stroke="#666" stroke-width="0.75"/>
<circle cx="179.7" cy="192.7" r="1.8" fill="none" stroke="#666" stroke-width="0.75"/>
<circle cx="181.6" cy="189.3" r="1.8" fill="none" stroke="#666" stroke-width="0.75"/>
<circle cx="183.7" cy="185.0" r="1.8" fill="none" stroke="#666" stroke-width="0.75"/>
<circle cx="186.2" cy="180.8" r="1.8" fill="none" stroke="#666" stroke-width="0.75"/>
<circle cx="189.1" cy="177.2" r="1.8" fill="none" stroke="#666" stroke-width="0.75"/>
<circle cx="192.6" cy="173.5" r="1.8" fill="none" stroke="#7c7c7c" stroke-width="0.75"/>
<circle cx="196.6" cy="170.7" r="1.8" fill="none" stroke="#7c7c7c" stroke-width="0.75"/>
<circle cx="201.0" cy="168.9" r="1.8" fill="none" stroke="#7c7c7c" stroke-width="0.75"/>
<circle cx="205.6" cy="167.5" r="1.8" fill="none" stroke="#7c7c7c" stroke-width="0.75"/>
<circle cx="210.4" cy="166.7" r="1.8" fill="none" stroke="#7c7c7c" stroke-width="0.75"/>
<circle cx="215.2" cy="165.8" r="1.8" fill="none" stroke="#7c7c7c" stroke-width="0.75"/>
<circle cx="220.0" cy="165.7" r="1.8" fill="none" stroke="#7c7c7c" stroke-width="0.75"/>
<circle cx="224.8" cy="165.5" r="1.8" fill="none" stroke="#7c7c7c" stroke-width="0.75"/>
<circle cx="229.6" cy="165.2" r="1.8" fill="none" stroke="#7c7c7c" stroke-width="0.75"/>
<circle cx="234.4" cy="165.8" r="1.8" fill="none" stroke="#7c7c7c" stroke-width="0.75"/>
<ellipse cx="239.2" cy="165.4" rx="1.85" ry="1.77" fill="none" stroke="#727272" stroke-width="0.75"/>
<ellipse cx="243.9" cy="165.4" rx="1.85" ry="1.68" fill="none" stroke="#727272" stroke-width="0.75"/>
<ellipse cx="248.4" cy="165.7" rx="1.85" ry="1.59" fill="none" stroke="#727272" stroke-width="0.75"/>
<ellipse cx="252.7" cy="165.6" rx="1.85" ry="1.51" fill="none" stroke="#727272" stroke-width="0.75"/>
<ellipse cx="256.9" cy="165.9" rx="1.85" ry="1.43" fill="none" stroke="#666" stroke-width="0.75"/>
<ellipse cx="260.9" cy="165.9" rx="1.85" ry="1.36" fill="none" stroke="#666" stroke-width="0.75"/>
<ellipse cx="264.8" cy="165.9" rx="1.85" ry="1.28" fill="none" stroke="#666" stroke-width="0.75"/>
<ellipse cx="268.5" cy="165.9" rx="1.85" ry="1.21" fill="none" stroke="#666" stroke-width="0.75"/>
<ellipse cx="272.1" cy="166.5" rx="1.85" ry="1.14" fill="none" stroke="#5e5e5e" stroke-width="0.75"/>
<ellipse cx="275.5" cy="166.3" rx="1.85" ry="1.08" fill="none" stroke="#5e5e5e" stroke-width="0.75"/>
<ellipse cx="278.8" cy="166.7" rx="1.85" ry="1.02" fill="none" stroke="#5e5e5e" stroke-width="0.75"/>
<ellipse cx="282.0" cy="166.8" rx="1.85" ry="0.96" fill="none" stroke="#5e5e5e" stroke-width="0.75"/>
<ellipse cx="285.1" cy="167.3" rx="1.85" ry="0.90" fill="none" stroke="#5e5e5e" stroke-width="0.75"/>
<ellipse cx="288.0" cy="167.2" rx="1.85" ry="0.90" fill="none" stroke="#5e5e5e" stroke-width="0.75"/>
<ellipse cx="70.7" cy="166.4" rx="1.85" ry="0.92" fill="none" stroke="#5e5e5e" stroke-width="0.75"/>
<ellipse cx="73.6" cy="166.6" rx="1.85" ry="0.99" fill="none" stroke="#5e5e5e" stroke-width="0.75"/>
<ellipse cx="76.6" cy="166.3" rx="1.85" ry="1.06" fill="none" stroke="#5e5e5e" stroke-width="0.75"/>
<ellipse cx="79.8" cy="166.0" rx="1.85" ry="1.13" fill="none" stroke="#5e5e5e" stroke-width="0.75"/>
<ellipse cx="83.1" cy="165.8" rx="1.85" ry="1.21" fill="none" stroke="#666" stroke-width="0.75"/>
<ellipse cx="86.6" cy="166.0" rx="1.85" ry="1.29" fill="none" stroke="#666" stroke-width="0.75"/>
<ellipse cx="90.3" cy="166.1" rx="1.85" ry="1.38" fill="none" stroke="#666" stroke-width="0.75"/>
<ellipse cx="94.2" cy="165.8" rx="1.85" ry="1.47" fill="none" stroke="#727272" stroke-width="0.75"/>
<ellipse cx="98.3" cy="165.4" rx="1.85" ry="1.57" fill="none" stroke="#727272" stroke-width="0.75"/>
<ellipse cx="102.6" cy="165.4" rx="1.85" ry="1.67" fill="none" stroke="#727272" stroke-width="0.75"/>
<ellipse cx="107.1" cy="165.5" rx="1.85" ry="1.78" fill="none" stroke="#727272" stroke-width="0.75"/>
<circle cx="111.8" cy="165.5" r="1.8" fill="none" stroke="#7c7c7c" stroke-width="0.75"/>
<circle cx="116.6" cy="165.5" r="1.8" fill="none" stroke="#7c7c7c" stroke-width="0.75"/>
<circle cx="121.4" cy="165.5" r="1.8" fill="none" stroke="#7c7c7c" stroke-width="0.75"/>
<circle cx="126.2" cy="166.0" r="1.8" fill="none" stroke="#7c7c7c" stroke-width="0.75"/>
<circle cx="131.0" cy="166.3" r="1.8" fill="none" stroke="#7c7c7c" stroke-width="0.75"/>
<circle cx="135.8" cy="166.1" r="1.8" fill="none" stroke="#7c7c7c" stroke-width="0.75"/>
<circle cx="140.6" cy="166.9" r="1.8" fill="none" stroke="#7c7c7c" stroke-width="0.75"/>
<circle cx="145.4" cy="167.1" r="1.8" fill="none" stroke="#7c7c7c" stroke-width="0.75"/>
<circle cx="150.2" cy="168.1" r="1.8" fill="none" stroke="#7c7c7c" stroke-width="0.75"/>
<circle cx="154.9" cy="169.3" r="1.8" fill="none" stroke="#7c7c7c" stroke-width="0.75"/>
<circle cx="159.5" cy="171.0" r="1.8" fill="none" stroke="#7c7c7c" stroke-width="0.75"/>
<circle cx="163.8" cy="172.9" r="1.8" fill="none" stroke="#7c7c7c" stroke-width="0.75"/>
<circle cx="167.6" cy="176.0" r="1.8" fill="none" stroke="#666" stroke-width="0.75"/>
<circle cx="170.9" cy="179.8" r="1.8" fill="none" stroke="#666" stroke-width="0.75"/>
<circle cx="173.7" cy="184.0" r="1.8" fill="none" stroke="#666" stroke-width="0.75"/>
<circle cx="176.1" cy="187.8" r="1.8" fill="none" stroke="#666" stroke-width="0.75"/>
<circle cx="178.1" cy="192.4" r="1.8" fill="none" stroke="#666" stroke-width="0.75"/>
<circle cx="179.9" cy="197.4" r="1.8" fill="none" stroke="#666" stroke-width="0.75"/>
<circle cx="181.7" cy="192.8" r="1.8" fill="none" stroke="#666" stroke-width="0.75"/>
<circle cx="183.7" cy="188.5" r="1.8" fill="none" stroke="#666" stroke-width="0.75"/>
<circle cx="186.1" cy="184.2" r="1.8" fill="none" stroke="#666" stroke-width="0.75"/>
<circle cx="188.9" cy="180.4" r="1.8" fill="none" stroke="#666" stroke-width="0.75"/>
<circle cx="192.2" cy="176.9" r="1.8" fill="none" stroke="#666" stroke-width="0.75"/>
<circle cx="196.0" cy="173.5" r="1.8" fill="none" stroke="#7c7c7c" stroke-width="0.75"/>
<circle cx="200.3" cy="171.6" r="1.8" fill="none" stroke="#7c7c7c" stroke-width="0.75"/>
<circle cx="204.9" cy="170.0" r="1.8" fill="none" stroke="#7c7c7c" stroke-width="0.75"/>
<circle cx="209.6" cy="169.0" r="1.8" fill="none" stroke="#7c7c7c" stroke-width="0.75"/>
<circle cx="214.4" cy="168.2" r="1.8" fill="none" stroke="#7c7c7c" stroke-width="0.75"/>
<circle cx="219.2" cy="168.0" r="1.8" fill="none" stroke="#7c7c7c" stroke-width="0.75"/>
<circle cx="224.0" cy="167.5" r="1.8" fill="none" stroke="#7c7c7c" stroke-width="0.75"/>
<circle cx="228.8" cy="167.4" r="1.8" fill="none" stroke="#7c7c7c" stroke-width="0.75"/>
<circle cx="233.6" cy="167.3" r="1.8" fill="none" stroke="#7c7c7c" stroke-width="0.75"/>
<ellipse cx="238.4" cy="167.6" rx="1.85" ry="1.79" fill="none" stroke="#727272" stroke-width="0.75"/>
<ellipse cx="243.1" cy="167.5" rx="1.85" ry="1.70" fill="none" stroke="#727272" stroke-width="0.75"/>
<ellipse cx="247.6" cy="167.4" rx="1.85" ry="1.61" fill="none" stroke="#727272" stroke-width="0.75"/>
<ellipse cx="252.0" cy="167.4" rx="1.85" ry="1.53" fill="none" stroke="#727272" stroke-width="0.75"/>
<ellipse cx="256.2" cy="167.8" rx="1.85" ry="1.45" fill="none" stroke="#666" stroke-width="0.75"/>
<ellipse cx="260.2" cy="167.9" rx="1.85" ry="1.37" fill="none" stroke="#666" stroke-width="0.75"/>
<ellipse cx="264.1" cy="168.0" rx="1.85" ry="1.30" fill="none" stroke="#666" stroke-width="0.75"/>
<ellipse cx="267.8" cy="167.9" rx="1.85" ry="1.23" fill="none" stroke="#666" stroke-width="0.75"/>
<ellipse cx="271.4" cy="168.1" rx="1.85" ry="1.16" fill="none" stroke="#5e5e5e" stroke-width="0.75"/>
<ellipse cx="274.9" cy="168.0" rx="1.85" ry="1.09" fill="none" stroke="#5e5e5e" stroke-width="0.75"/>
<ellipse cx="278.2" cy="168.5" rx="1.85" ry="1.03" fill="none" stroke="#5e5e5e" stroke-width="0.75"/>
<ellipse cx="281.4" cy="168.2" rx="1.85" ry="0.97" fill="none" stroke="#5e5e5e" stroke-width="0.75"/>
<ellipse cx="284.5" cy="168.7" rx="1.85" ry="0.91" fill="none" stroke="#5e5e5e" stroke-width="0.75"/>
<ellipse cx="287.5" cy="169.1" rx="1.85" ry="0.90" fill="none" stroke="#5e5e5e" stroke-width="0.75"/>
<ellipse cx="72.2" cy="167.8" rx="1.85" ry="0.95" fill="none" stroke="#5e5e5e" stroke-width="0.75"/>
<ellipse cx="75.2" cy="167.7" rx="1.85" ry="1.02" fill="none" stroke="#5e5e5e" stroke-width="0.75"/>
<ellipse cx="78.3" cy="168.0" rx="1.85" ry="1.10" fill="none" stroke="#5e5e5e" stroke-width="0.75"/>
<ellipse cx="81.6" cy="167.8" rx="1.85" ry="1.18" fill="none" stroke="#5e5e5e" stroke-width="0.75"/>
<ellipse cx="85.0" cy="167.9" rx="1.85" ry="1.26" fill="none" stroke="#666" stroke-width="0.75"/>
<ellipse cx="88.6" cy="167.8" rx="1.85" ry="1.34" fill="none" stroke="#666" stroke-width="0.75"/>
<ellipse cx="92.4" cy="167.5" rx="1.85" ry="1.43" fill="none" stroke="#666" stroke-width="0.75"/>
<ellipse cx="96.4" cy="167.8" rx="1.85" ry="1.53" fill="none" stroke="#727272" stroke-width="0.75"/>
<ellipse cx="100.6" cy="167.7" rx="1.85" ry="1.63" fill="none" stroke="#727272" stroke-width="0.75"/>
<ellipse cx="105.0" cy="167.5" rx="1.85" ry="1.73" fill="none" stroke="#727272" stroke-width="0.75"/>
<ellipse cx="109.6" cy="167.5" rx="1.85" ry="1.84" fill="none" stroke="#727272" stroke-width="0.75"/>
<circle cx="114.4" cy="167.4" r="1.8" fill="none" stroke="#7c7c7c" stroke-width="0.75"/>
<circle cx="119.2" cy="167.6" r="1.8" fill="none" stroke="#7c7c7c" stroke-width="0.75"/>
<circle cx="124.0" cy="168.1" r="1.8" fill="none" stroke="#7c7c7c" stroke-width="0.75"/>
<circle cx="128.8" cy="167.7" r="1.8" fill="none" stroke="#7c7c7c" stroke-width="0.75"/>
<circle cx="133.6" cy="168.2" r="1.8" fill="none" stroke="#7c7c7c" stroke-width="0.75"/>
<circle cx="138.4" cy="168.2" r="1.8" fill="none" stroke="#7c7c7c" stroke-width="0.75"/>
<circle cx="143.2" cy="168.7" r="1.8" fill="none" stroke="#7c7c7c" stroke-width="0.75"/>
<circle cx="148.0" cy="169.7" r="1.8" fill="none" stroke="#7c7c7c" stroke-width="0.75"/>
<circle cx="152.7" cy="170.4" r="1.8" fill="none" stroke="#7c7c7c" stroke-width="0.75"/>
<circle cx="157.3" cy="171.8" r="1.8" fill="none" stroke="#7c7c7c" stroke-width="0.75"/>
<circle cx="161.7" cy="174.0" r="1.8" fill="none" stroke="#7c7c7c" stroke-width="0.75"/>
<circle cx="165.7" cy="177.1" r="1.8" fill="none" stroke="#666" stroke-width="0.75"/>
<circle cx="169.2" cy="180.4" r="1.8" fill="none" stroke="#666" stroke-width="0.75"/>
<circle cx="172.2" cy="184.0" r="1.8" fill="none" stroke="#666" stroke-width="0.75"/>
<circle cx="174.7" cy="188.3" r="1.8" fill="none" stroke="#666" stroke-width="0.75"/>
<circle cx="176.8" cy="193.1" r="1.8" fill="none" stroke="#666" stroke-width="0.75"/>
<circle cx="178.7" cy="197.4" r="1.8" fill="none" stroke="#666" stroke-width="0.75"/>
<circle cx="180.3" cy="200.4" r="1.8" fill="none" stroke="#666" stroke-width="0.75"/>
<circle cx="182.0" cy="195.8" r="1.8" fill="none" stroke="#666" stroke-width="0.75"/>
<circle cx="184.0" cy="191.4" r="1.8" fill="none" stroke="#666" stroke-width="0.75"/>
<circle cx="186.3" cy="187.0" r="1.8" fill="none" stroke="#666" stroke-width="0.75"/>
<circle cx="189.0" cy="183.1" r="1.8" fill="none" stroke="#666" stroke-width="0.75"/>
<circle cx="192.2" cy="179.3" r="1.8" fill="none" stroke="#666" stroke-width="0.75"/>
<circle cx="195.9" cy="176.0" r="1.8" fill="none" stroke="#666" stroke-width="0.75"/>
<circle cx="200.1" cy="173.6" r="1.8" fill="none" stroke="#7c7c7c" stroke-width="0.75"/>
<circle cx="204.6" cy="171.8" r="1.8" fill="none" stroke="#7c7c7c" stroke-width="0.75"/>
<circle cx="209.3" cy="171.1" r="1.8" fill="none" stroke="#7c7c7c" stroke-width="0.75"/>
<circle cx="214.1" cy="170.0" r="1.8" fill="none" stroke="#7c7c7c" stroke-width="0.75"/>
<circle cx="218.9" cy="169.5" r="1.8" fill="none" stroke="#7c7c7c" stroke-width="0.75"/>
<circle cx="223.7" cy="169.8" r="1.8" fill="none" stroke="#7c7c7c" stroke-width="0.75"/>
<circle cx="228.5" cy="169.2" r="1.8" fill="none" stroke="#7c7c7c" stroke-width="0.75"/>
<circle cx="233.3" cy="169.6" r="1.8" fill="none" stroke="#7c7c7c" stroke-width="0.75"/>
<ellipse cx="238.1" cy="169.1" rx="1.85" ry="1.79" fill="none" stroke="#727272" stroke-width="0.75"/>
<ellipse cx="242.8" cy="169.4" rx="1.85" ry="1.70" fill="none" stroke="#727272" stroke-width="0.75"/>
<ellipse cx="247.4" cy="169.3" rx="1.85" ry="1.61" fill="none" stroke="#727272" stroke-width="0.75"/>
<ellipse cx="251.8" cy="169.7" rx="1.85" ry="1.53" fill="none" stroke="#727272" stroke-width="0.75"/>
<ellipse cx="256.0" cy="169.7" rx="1.85" ry="1.45" fill="none" stroke="#666" stroke-width="0.75"/>
<ellipse cx="260.1" cy="169.7" rx="1.85" ry="1.37" fill="none" stroke="#666" stroke-width="0.75"/>
<ellipse cx="264.0" cy="169.9" rx="1.85" ry="1.30" fill="none" stroke="#666" stroke-width="0.75"/>
<ellipse cx="267.7" cy="170.1" rx="1.85" ry="1.23" fill="none" stroke="#666" stroke-width="0.75"/>
<ellipse cx="271.3" cy="169.9" rx="1.85" ry="1.16" fill="none" stroke="#5e5e5e" stroke-width="0.75"/>
<ellipse cx="274.8" cy="170.1" rx="1.85" ry="1.09" fill="none" stroke="#5e5e5e" stroke-width="0.75"/>
<ellipse cx="278.1" cy="170.1" rx="1.85" ry="1.03" fill="none" stroke="#5e5e5e" stroke-width="0.75"/>
<ellipse cx="281.3" cy="170.0" rx="1.85" ry="0.97" fill="none" stroke="#5e5e5e" stroke-width="0.75"/>
<ellipse cx="284.4" cy="170.6" rx="1.85" ry="0.91" fill="none" stroke="#5e5e5e" stroke-width="0.75"/>
<ellipse cx="287.4" cy="170.7" rx="1.85" ry="0.90" fill="none" stroke="#5e5e5e" stroke-width="0.75"/>
<ellipse cx="73.0" cy="169.3" rx="1.85" ry="0.97" fill="none" stroke="#5e5e5e" stroke-width="0.75"/>
<ellipse cx="76.0" cy="169.5" rx="1.85" ry="1.04" fill="none" stroke="#5e5e5e" stroke-width="0.75"/>
<ellipse cx="79.1" cy="169.4" rx="1.85" ry="1.12" fill="none" stroke="#5e5e5e" stroke-width="0.75"/>
<ellipse cx="82.4" cy="169.5" rx="1.85" ry="1.19" fill="none" stroke="#666" stroke-width="0.75"/>
<ellipse cx="85.9" cy="169.1" rx="1.85" ry="1.28" fill="none" stroke="#666" stroke-width="0.75"/>
<ellipse cx="89.5" cy="169.3" rx="1.85" ry="1.36" fill="none" stroke="#666" stroke-width="0.75"/>
<ellipse cx="93.3" cy="169.3" rx="1.85" ry="1.45" fill="none" stroke="#666" stroke-width="0.75"/>
<ellipse cx="97.3" cy="169.1" rx="1.85" ry="1.55" fill="none" stroke="#727272" stroke-width="0.75"/>
<ellipse cx="101.5" cy="169.4" rx="1.85" ry="1.65" fill="none" stroke="#727272" stroke-width="0.75"/>
<ellipse cx="105.9" cy="169.6" rx="1.85" ry="1.75" fill="none" stroke="#727272" stroke-width="0.75"/>
<circle cx="110.5" cy="169.4" r="1.8" fill="none" stroke="#7c7c7c" stroke-width="0.75"/>
<circle cx="115.3" cy="169.6" r="1.8" fill="none" stroke="#7c7c7c" stroke-width="0.75"/>
<circle cx="120.1" cy="169.7" r="1.8" fill="none" stroke="#7c7c7c" stroke-width="0.75"/>
<circle cx="124.9" cy="169.6" r="1.8" fill="none" stroke="#7c7c7c" stroke-width="0.75"/>
<circle cx="129.7" cy="169.8" r="1.8" fill="none" stroke="#7c7c7c" stroke-width="0.75"/>
<circle cx="134.5" cy="170.5" r="1.8" fill="none" stroke="#7c7c7c" stroke-width="0.75"/>
<circle cx="139.3" cy="170.4" r="1.8" fill="none" stroke="#7c7c7c" stroke-width="0.75"/>
<circle cx="144.1" cy="171.0" r="1.8" fill="none" stroke="#7c7c7c" stroke-width="0.75"/>
<circle cx="148.9" cy="171.6" r="1.8" fill="none" stroke="#7c7c7c" stroke-width="0.75"/>
<circle cx="153.6" cy="172.8" r="1.8" fill="none" stroke="#7c7c7c" stroke-width="0.75"/>
<circle cx="158.2" cy="174.4" r="1.8" fill="none" stroke="#7c7c7c" stroke-width="0.75"/>
<circle cx="162.5" cy="177.2" r="1.8" fill="none" stroke="#666" stroke-width="0.75"/>
<circle cx="166.3" cy="180.1" r="1.8" fill="none" stroke="#666" stroke-width="0.75"/>
<circle cx="169.6" cy="183.7" r="1.8" fill="none" stroke="#666" stroke-width="0.75"/>
<circle cx="172.4" cy="187.7" r="1.8" fill="none" stroke="#666" stroke-width="0.75"/>
<circle cx="174.8" cy="191.8" r="1.8" fill="none" stroke="#666" stroke-width="0.75"/>
<circle cx="176.9" cy="196.5" r="1.8" fill="none" stroke="#666" stroke-width="0.75"/>
<circle cx="178.7" cy="201.0" r="1.8" fill="none" stroke="#666" stroke-width="0.75"/>
<circle cx="180.3" cy="204.1" r="1.8" fill="none" stroke="#666" stroke-width="0.75"/>
<circle cx="181.9" cy="199.8" r="1.8" fill="none" stroke="#666" stroke-width="0.75"/>
<circle cx="183.8" cy="195.1" r="1.8" fill="none" stroke="#666" stroke-width="0.75"/>
<circle cx="186.0" cy="190.7" r="1.8" fill="none" stroke="#666" stroke-width="0.75"/>
<circle cx="188.6" cy="186.2" r="1.8" fill="none" stroke="#666" stroke-width="0.75"/>
<circle cx="191.6" cy="182.6" r="1.8" fill="none" stroke="#666" stroke-width="0.75"/>
<circle cx="195.2" cy="179.1" r="1.8" fill="none" stroke="#666" stroke-width="0.75"/>
<circle cx="199.3" cy="176.8" r="1.8" fill="none" stroke="#666" stroke-width="0.75"/>
<circle cx="203.7" cy="174.8" r="1.8" fill="none" stroke="#7c7c7c" stroke-width="0.75"/>
<circle cx="208.4" cy="173.1" r="1.8" fill="none" stroke="#7c7c7c" stroke-width="0.75"/>
<circle cx="213.2" cy="172.6" r="1.8" fill="none" stroke="#7c7c7c" stroke-width="0.75"/>
<circle cx="218.0" cy="171.7" r="1.8" fill="none" stroke="#7c7c7c" stroke-width="0.75"/>
<circle cx="222.8" cy="171.3" r="1.8" fill="none" stroke="#7c7c7c" stroke-width="0.75"/>
<circle cx="227.6" cy="171.5" r="1.8" fill="none" stroke="#7c7c7c" stroke-width="0.75"/>
<circle cx="232.4" cy="171.2" r="1.8" fill="none" stroke="#7c7c7c" stroke-width="0.75"/>
<ellipse cx="237.2" cy="171.3" rx="1.85" ry="1.81" fill="none" stroke="#727272" stroke-width="0.75"/>
<ellipse cx="242.0" cy="171.4" rx="1.85" ry="1.72" fill="none" stroke="#727272" stroke-width="0.75"/>
<ellipse cx="246.6" cy="171.1" rx="1.85" ry="1.63" fill="none" stroke="#727272" stroke-width="0.75"/>
<ellipse cx="251.0" cy="171.5" rx="1.85" ry="1.55" fill="none" stroke="#727272" stroke-width="0.75"/>
<ellipse cx="255.2" cy="171.3" rx="1.85" ry="1.47" fill="none" stroke="#666" stroke-width="0.75"/>
<ellipse cx="259.3" cy="171.5" rx="1.85" ry="1.39" fill="none" stroke="#666" stroke-width="0.75"/>
<ellipse cx="263.2" cy="171.5" rx="1.85" ry="1.31" fill="none" stroke="#666" stroke-width="0.75"/>
<ellipse cx="267.0" cy="171.8" rx="1.85" ry="1.24" fill="none" stroke="#666" stroke-width="0.75"/>
<ellipse cx="270.6" cy="171.9" rx="1.85" ry="1.17" fill="none" stroke="#5e5e5e" stroke-width="0.75"/>
<ellipse cx="274.1" cy="171.7" rx="1.85" ry="1.11" fill="none" stroke="#5e5e5e" stroke-width="0.75"/>
<ellipse cx="277.5" cy="171.7" rx="1.85" ry="1.04" fill="none" stroke="#5e5e5e" stroke-width="0.75"/>
<ellipse cx="280.7" cy="171.9" rx="1.85" ry="0.98" fill="none" stroke="#5e5e5e" stroke-width="0.75"/>
<ellipse cx="283.8" cy="172.1" rx="1.85" ry="0.92" fill="none" stroke="#5e5e5e" stroke-width="0.75"/>
<ellipse cx="286.8" cy="172.0" rx="1.85" ry="0.90" fill="none" stroke="#5e5e5e" stroke-width="0.75"/>
<ellipse cx="71.7" cy="171.2" rx="1.85" ry="0.94" fill="none" stroke="#4a4a4a" stroke-width="0.75"/>
<ellipse cx="74.6" cy="171.2" rx="1.85" ry="1.01" fill="none" stroke="#4a4a4a" stroke-width="0.75"/>
<ellipse cx="77.7" cy="171.3" rx="1.85" ry="1.08" fill="none" stroke="#4a4a4a" stroke-width="0.75"/>
<ellipse cx="80.9" cy="171.3" rx="1.85" ry="1.16" fill="none" stroke="#4a4a4a" stroke-width="0.75"/>
<ellipse cx="84.3" cy="171.3" rx="1.85" ry="1.24" fill="none" stroke="#4a4a4a" stroke-width="0.75"/>
<ellipse cx="87.9" cy="171.0" rx="1.85" ry="1.33" fill="none" stroke="#4a4a4a" stroke-width="0.75"/>
<ellipse cx="91.6" cy="170.9" rx="1.85" ry="1.41" fill="none" stroke="#4a4a4a" stroke-width="0.75"/>
<ellipse cx="95.5" cy="171.0" rx="1.85" ry="1.51" fill="none" stroke="#4a4a4a" stroke-width="0.75"/>
<ellipse cx="99.6" cy="171.2" rx="1.85" ry="1.60" fill="none" stroke="#4a4a4a" stroke-width="0.75"/>
<ellipse cx="103.9" cy="171.3" rx="1.85" ry="1.71" fill="none" stroke="#4a4a4a" stroke-width="0.75"/>
<ellipse cx="108.4" cy="171.3" rx="1.85" ry="1.81" fill="none" stroke="#4a4a4a" stroke-width="0.75"/>
<circle cx="113.2" cy="171.3" r="1.8" fill="none" stroke="#4a4a4a" stroke-width="0.75"/>
<circle cx="118.0" cy="171.7" r="1.8" fill="none" stroke="#4a4a4a" stroke-width="0.75"/>
<circle cx="122.8" cy="171.5" r="1.8" fill="none" stroke="#4a4a4a" stroke-width="0.75"/>
<circle cx="127.6" cy="171.7" r="1.8" fill="none" stroke="#4a4a4a" stroke-width="0.75"/>
<circle cx="132.4" cy="172.2" r="1.8" fill="none" stroke="#4a4a4a" stroke-width="0.75"/>
<circle cx="137.2" cy="172.5" r="1.8" fill="none" stroke="#4a4a4a" stroke-width="0.75"/>
<circle cx="142.0" cy="172.7" r="1.8" fill="none" stroke="#4a4a4a" stroke-width="0.75"/>
<circle cx="146.8" cy="173.3" r="1.8" fill="none" stroke="#4a4a4a" stroke-width="0.75"/>
<circle cx="151.5" cy="174.7" r="1.8" fill="none" stroke="#4a4a4a" stroke-width="0.75"/>
<circle cx="156.1" cy="175.7" r="1.8" fill="none" stroke="#4a4a4a" stroke-width="0.75"/>
<circle cx="160.5" cy="177.9" r="1.8" fill="none" stroke="#4a4a4a" stroke-width="0.75"/>
<circle cx="164.5" cy="180.9" r="1.8" fill="none" stroke="#4a4a4a" stroke-width="0.75"/>
<circle cx="168.0" cy="184.3" r="1.8" fill="none" stroke="#4a4a4a" stroke-width="0.75"/>
<circle cx="171.0" cy="187.9" r="1.8" fill="none" stroke="#4a4a4a" stroke-width="0.75"/>
<circle cx="173.5" cy="192.0" r="1.8" fill="none" stroke="#4a4a4a" stroke-width="0.75"/>
<circle cx="175.7" cy="196.6" r="1.8" fill="none" stroke="#4a4a4a" stroke-width="0.75"/>
<circle cx="177.6" cy="201.7" r="1.8" fill="none" stroke="#4a4a4a" stroke-width="0.75"/>
<circle cx="179.2" cy="206.1" r="1.8" fill="none" stroke="#4a4a4a" stroke-width="0.75"/>
<circle cx="180.8" cy="206.2" r="1.8" fill="none" stroke="#4a4a4a" stroke-width="0.75"/>
<circle cx="182.4" cy="201.5" r="1.8" fill="none" stroke="#4a4a4a" stroke-width="0.75"/>
<circle cx="184.3" cy="197.0" r="1.8" fill="none" stroke="#4a4a4a" stroke-width="0.75"/>
<circle cx="186.5" cy="192.0" r="1.8" fill="none" stroke="#4a4a4a" stroke-width="0.75"/>
<circle cx="189.1" cy="187.9" r="1.8" fill="none" stroke="#4a4a4a" stroke-width="0.75"/>
<circle cx="192.2" cy="184.0" r="1.8" fill="none" stroke="#4a4a4a" stroke-width="0.75"/>
<circle cx="195.8" cy="180.9" r="1.8" fill="none" stroke="#4a4a4a" stroke-width="0.75"/>
<circle cx="199.9" cy="178.3" r="1.8" fill="none" stroke="#4a4a4a" stroke-width="0.75"/>
<circle cx="204.4" cy="176.2" r="1.8" fill="none" stroke="#4a4a4a" stroke-width="0.75"/>
<circle cx="209.1" cy="175.2" r="1.8" fill="none" stroke="#4a4a4a" stroke-width="0.75"/>
<circle cx="213.9" cy="174.1" r="1.8" fill="none" stroke="#4a4a4a" stroke-width="0.75"/>
<circle cx="218.7" cy="173.7" r="1.8" fill="none" stroke="#4a4a4a" stroke-width="0.75"/>
<circle cx="223.5" cy="173.3" r="1.8" fill="none" stroke="#4a4a4a" stroke-width="0.75"/>
<circle cx="228.3" cy="173.5" r="1.8" fill="none" stroke="#4a4a4a" stroke-width="0.75"/>
<circle cx="233.1" cy="173.2" r="1.8" fill="none" stroke="#4a4a4a" stroke-width="0.75"/>
<ellipse cx="237.9" cy="173.1" rx="1.85" ry="1.79" fill="none" stroke="#4a4a4a" stroke-width="0.75"/>
<ellipse cx="242.6" cy="172.9" rx="1.85" ry="1.70" fill="none" stroke="#4a4a4a" stroke-width="0.75"/>
<ellipse cx="247.2" cy="173.2" rx="1.85" ry="1.62" fill="none" stroke="#4a4a4a" stroke-width="0.75"/>
<ellipse cx="251.6" cy="173.4" rx="1.85" ry="1.53" fill="none" stroke="#4a4a4a" stroke-width="0.75"/>
<ellipse cx="255.8" cy="173.4" rx="1.85" ry="1.45" fill="none" stroke="#4a4a4a" stroke-width="0.75"/>
<ellipse cx="259.9" cy="173.6" rx="1.85" ry="1.38" fill="none" stroke="#4a4a4a" stroke-width="0.75"/>
<ellipse cx="263.8" cy="173.6" rx="1.85" ry="1.30" fill="none" stroke="#4a4a4a" stroke-width="0.75"/>
<ellipse cx="267.6" cy="173.4" rx="1.85" ry="1.23" fill="none" stroke="#4a4a4a" stroke-width="0.75"/>
<ellipse cx="271.2" cy="173.4" rx="1.85" ry="1.16" fill="none" stroke="#4a4a4a" stroke-width="0.75"/>
<ellipse cx="274.7" cy="173.8" rx="1.85" ry="1.09" fill="none" stroke="#4a4a4a" stroke-width="0.75"/>
<ellipse cx="278.0" cy="173.9" rx="1.85" ry="1.03" fill="none" stroke="#4a4a4a" stroke-width="0.75"/>
<ellipse cx="281.2" cy="173.8" rx="1.85" ry="0.97" fill="none" stroke="#4a4a4a" stroke-width="0.75"/>
<ellipse cx="284.3" cy="174.1" rx="1.85" ry="0.91" fill="none" stroke="#4a4a4a" stroke-width="0.75"/>
<ellipse cx="287.3" cy="174.0" rx="1.85" ry="0.90" fill="none" stroke="#4a4a4a" stroke-width="0.75"/>
<ellipse cx="72.5" cy="172.4" rx="1.85" ry="0.96" fill="none" stroke="#333" stroke-width="0.75"/>
<ellipse cx="75.5" cy="172.4" rx="1.85" ry="1.03" fill="none" stroke="#333" stroke-width="0.75"/>
<ellipse cx="78.6" cy="172.8" rx="1.85" ry="1.10" fill="none" stroke="#333" stroke-width="0.75"/>
<ellipse cx="81.9" cy="173.0" rx="1.85" ry="1.18" fill="none" stroke="#333" stroke-width="0.75"/>
<ellipse cx="85.3" cy="173.0" rx="1.85" ry="1.26" fill="none" stroke="#333" stroke-width="0.75"/>
<ellipse cx="88.9" cy="172.8" rx="1.85" ry="1.35" fill="none" stroke="#333" stroke-width="0.75"/>
<ellipse cx="92.7" cy="173.0" rx="1.85" ry="1.44" fill="none" stroke="#333" stroke-width="0.75"/>
<ellipse cx="96.7" cy="173.2" rx="1.85" ry="1.53" fill="none" stroke="#333" stroke-width="0.75"/>
<ellipse cx="100.9" cy="173.2" rx="1.85" ry="1.63" fill="none" stroke="#333" stroke-width="0.75"/>
<ellipse cx="105.3" cy="173.2" rx="1.85" ry="1.74" fill="none" stroke="#333" stroke-width="0.75"/>
<ellipse cx="109.9" cy="173.1" rx="1.85" ry="1.85" fill="none" stroke="#333" stroke-width="0.75"/>
<circle cx="114.7" cy="173.3" r="1.8" fill="none" stroke="#383838" stroke-width="0.75"/>
<circle cx="119.5" cy="173.2" r="1.8" fill="none" stroke="#383838" stroke-width="0.75"/>
<circle cx="124.3" cy="173.4" r="1.8" fill="none" stroke="#383838" stroke-width="0.75"/>
<circle cx="129.1" cy="173.9" r="1.8" fill="none" stroke="#383838" stroke-width="0.75"/>
<circle cx="133.9" cy="174.3" r="1.8" fill="none" stroke="#383838" stroke-width="0.75"/>
<circle cx="138.7" cy="174.5" r="1.8" fill="none" stroke="#383838" stroke-width="0.75"/>
<circle cx="143.5" cy="174.9" r="1.8" fill="none" stroke="#383838" stroke-width="0.75"/>
<circle cx="148.3" cy="175.7" r="1.8" fill="none" stroke="#383838" stroke-width="0.75"/>
<circle cx="153.0" cy="177.0" r="1.8" fill="none" stroke="#383838" stroke-width="0.75"/>
<circle cx="157.5" cy="178.9" r="1.8" fill="none" stroke="#383838" stroke-width="0.75"/>
<circle cx="161.7" cy="181.0" r="1.8" fill="none" stroke="#383838" stroke-width="0.75"/>
<circle cx="165.5" cy="184.4" r="1.8" fill="none" stroke="#383838" stroke-width="0.75"/>
<circle cx="168.8" cy="187.5" r="1.8" fill="none" stroke="#383838" stroke-width="0.75"/>
<circle cx="171.6" cy="191.6" r="1.8" fill="none" stroke="#383838" stroke-width="0.75"/>
<circle cx="174.0" cy="196.1" r="1.8" fill="none" stroke="#383838" stroke-width="0.75"/>
<circle cx="176.0" cy="200.4" r="1.8" fill="none" stroke="#383838" stroke-width="0.75"/>
<circle cx="177.8" cy="205.4" r="1.8" fill="none" stroke="#383838" stroke-width="0.75"/>
<circle cx="179.3" cy="210.0" r="1.8" fill="none" stroke="#383838" stroke-width="0.75"/>
<circle cx="180.7" cy="210.0" r="1.8" fill="none" stroke="#383838" stroke-width="0.75"/>
<circle cx="182.3" cy="205.0" r="1.8" fill="none" stroke="#383838" stroke-width="0.75"/>
<circle cx="184.1" cy="200.1" r="1.8" fill="none" stroke="#383838" stroke-width="0.75"/>
<circle cx="186.2" cy="195.9" r="1.8" fill="none" stroke="#383838" stroke-width="0.75"/>
<circle cx="188.6" cy="191.7" r="1.8" fill="none" stroke="#383838" stroke-width="0.75"/>
<circle cx="191.5" cy="187.6" r="1.8" fill="none" stroke="#383838" stroke-width="0.75"/>
<circle cx="194.9" cy="184.0" r="1.8" fill="none" stroke="#383838" stroke-width="0.75"/>
<circle cx="198.8" cy="181.4" r="1.8" fill="none" stroke="#383838" stroke-width="0.75"/>
<circle cx="203.1" cy="179.3" r="1.8" fill="none" stroke="#383838" stroke-width="0.75"/>
<circle cx="207.7" cy="177.3" r="1.8" fill="none" stroke="#383838" stroke-width="0.75"/>
<circle cx="212.4" cy="176.7" r="1.8" fill="none" stroke="#383838" stroke-width="0.75"/>
<circle cx="217.2" cy="175.8" r="1.8" fill="none" stroke="#383838" stroke-width="0.75"/>
<circle cx="222.0" cy="175.5" r="1.8" fill="none" stroke="#383838" stroke-width="0.75"/>
<circle cx="226.8" cy="175.5" r="1.8" fill="none" stroke="#383838" stroke-width="0.75"/>
<circle cx="231.6" cy="175.5" r="1.8" fill="none" stroke="#383838" stroke-width="0.75"/>
<ellipse cx="236.4" cy="175.2" rx="1.85" ry="1.82" fill="none" stroke="#333" stroke-width="0.75"/>
<ellipse cx="241.2" cy="174.9" rx="1.85" ry="1.73" fill="none" stroke="#333" stroke-width="0.75"/>
<ellipse cx="245.8" cy="175.4" rx="1.85" ry="1.64" fill="none" stroke="#333" stroke-width="0.75"/>
<ellipse cx="250.2" cy="175.0" rx="1.85" ry="1.56" fill="none" stroke="#333" stroke-width="0.75"/>
<ellipse cx="254.5" cy="175.1" rx="1.85" ry="1.48" fill="none" stroke="#333" stroke-width="0.75"/>
<ellipse cx="258.6" cy="175.4" rx="1.85" ry="1.40" fill="none" stroke="#333" stroke-width="0.75"/>
<ellipse cx="262.6" cy="175.2" rx="1.85" ry="1.33" fill="none" stroke="#333" stroke-width="0.75"/>
<ellipse cx="266.4" cy="175.2" rx="1.85" ry="1.25" fill="none" stroke="#333" stroke-width="0.75"/>
<ellipse cx="270.1" cy="175.7" rx="1.85" ry="1.18" fill="none" stroke="#333" stroke-width="0.75"/>
<ellipse cx="273.6" cy="175.7" rx="1.85" ry="1.12" fill="none" stroke="#333" stroke-width="0.75"/>
<ellipse cx="277.0" cy="175.4" rx="1.85" ry="1.05" fill="none" stroke="#333" stroke-width="0.75"/>
<ellipse cx="280.3" cy="175.5" rx="1.85" ry="0.99" fill="none" stroke="#333" stroke-width="0.75"/>
<ellipse cx="283.4" cy="175.4" rx="1.85" ry="0.93" fill="none" stroke="#333" stroke-width="0.75"/>
<ellipse cx="286.4" cy="175.4" rx="1.85" ry="0.90" fill="none" stroke="#333" stroke-width="0.75"/>
<line x1="180" x2="180" y1="32" y2="254" stroke="#8a8a8a" stroke-width="1.2"/>
<polyline points="46,212.4 56.7,212.4 67.6,209.7 74,205.4 78.6,201.1 82.7,197 86.1,192.9 89.6,189.2 92.2,185.7 94.7,183.2 98.2,181.4 100.7,180.6 103.3,179.2 106.4,176.6 109.3,169.6 112.1,161.8 115.8,152.5 119.5,143.6 124.3,129.8 129.3,110.9 132.7,107.4 135.7,103.8 140.7,101.2" fill="none" stroke="#888" stroke-width="0.6"/>
<rect x="55.1" y="210.8" width="3.2" height="3.2" fill="#000"/>
<rect x="66.0" y="208.1" width="3.2" height="3.2" fill="#000"/>
<rect x="72.4" y="203.8" width="3.2" height="3.2" fill="#000"/>
<rect x="77.0" y="199.5" width="3.2" height="3.2" fill="#000"/>
<rect x="81.1" y="195.4" width="3.2" height="3.2" fill="#000"/>
<rect x="84.5" y="191.3" width="3.2" height="3.2" fill="#000"/>
<rect x="88.0" y="187.6" width="3.2" height="3.2" fill="#000"/>
<rect x="90.6" y="184.1" width="3.2" height="3.2" fill="#000"/>
<rect x="93.1" y="181.6" width="3.2" height="3.2" fill="#000"/>
<rect x="96.6" y="179.8" width="3.2" height="3.2" fill="#000"/>
<rect x="99.1" y="179.0" width="3.2" height="3.2" fill="#000"/>
<rect x="101.7" y="177.6" width="3.2" height="3.2" fill="#000"/>
<rect x="105.2" y="175.3" width="2.5" height="2.5" fill="#000"/>
<rect x="108.0" y="168.3" width="2.5" height="2.5" fill="#000"/>
<rect x="110.8" y="160.6" width="2.5" height="2.5" fill="#000"/>
<rect x="114.5" y="151.2" width="2.5" height="2.5" fill="#000"/>
<rect x="118.2" y="142.3" width="2.5" height="2.5" fill="#000"/>
<rect x="122.7" y="128.2" width="3.2" height="3.2" fill="#000"/>
<rect x="127.7" y="109.3" width="3.2" height="3.2" fill="#000"/>
<rect x="131.1" y="105.8" width="3.2" height="3.2" fill="#000"/>
<rect x="134.1" y="102.2" width="3.2" height="3.2" fill="#000"/>
<rect x="139.1" y="99.6" width="3.2" height="3.2" fill="#000"/>
<rect x="45.4" y="211.0" width="2.4" height="2.6" fill="#fff" stroke="#555" stroke-width="0.7"/>
<rect x="48.0" y="211.0" width="2.4" height="2.6" fill="#fff" stroke="#555" stroke-width="0.7"/>
<rect x="50.599999999999994" y="211.0" width="2.4" height="2.6" fill="#fff" stroke="#555" stroke-width="0.7"/>
<rect x="139.3" y="99.7" width="3.3" height="3.3" fill="#fff" stroke="#555" stroke-width="0.8"/>
<rect x="140.5" y="99.1" width="3.3" height="3.3" fill="#fff" stroke="#555" stroke-width="0.8"/>
<rect x="141.6" y="98.7" width="3.3" height="3.3" fill="#fff" stroke="#555" stroke-width="0.8"/>
<rect x="143.7" y="97.6" width="3.3" height="3.3" fill="#fff" stroke="#555" stroke-width="0.8"/>
<rect x="144.8" y="96.8" width="3.3" height="3.3" fill="#fff" stroke="#555" stroke-width="0.8"/>
<rect x="145.9" y="96.0" width="3.3" height="3.3" fill="#fff" stroke="#555" stroke-width="0.8"/>
<rect x="147.2" y="95.3" width="3.4" height="3.4" fill="#111"/>
<rect x="148.6" y="94.8" width="3.3" height="3.3" fill="#fff" stroke="#555" stroke-width="0.8"/>
<rect x="150.8" y="92.6" width="3.3" height="3.3" fill="#fff" stroke="#555" stroke-width="0.8"/>
<rect x="152.8" y="91.9" width="3.3" height="3.3" fill="#fff" stroke="#555" stroke-width="0.8"/>
<rect x="153.8" y="91.5" width="3.3" height="3.3" fill="#fff" stroke="#555" stroke-width="0.8"/>
<rect x="155.1" y="90.9" width="3.3" height="3.3" fill="#fff" stroke="#555" stroke-width="0.8"/>
<rect x="156.2" y="90.5" width="3.3" height="3.3" fill="#fff" stroke="#555" stroke-width="0.8"/>
<rect x="157.7" y="89.1" width="3.3" height="3.3" fill="#fff" stroke="#555" stroke-width="0.8"/>
<rect x="160.1" y="88.1" width="3.3" height="3.3" fill="#fff" stroke="#555" stroke-width="0.8"/>
<rect x="161.3" y="87.4" width="3.3" height="3.3" fill="#fff" stroke="#555" stroke-width="0.8"/>
<rect x="163.6" y="86.3" width="3.3" height="3.3" fill="#fff" stroke="#555" stroke-width="0.8"/>
<rect x="165.9" y="86.0" width="3.3" height="3.3" fill="#fff" stroke="#555" stroke-width="0.8"/>
<rect x="167.2" y="84.9" width="3.3" height="3.3" fill="#fff" stroke="#555" stroke-width="0.8"/>
<rect x="168.9" y="84.4" width="3.3" height="3.3" fill="#fff" stroke="#555" stroke-width="0.8"/>
<rect x="169.9" y="83.7" width="3.3" height="3.3" fill="#fff" stroke="#555" stroke-width="0.8"/>
<rect x="172.0" y="82.9" width="3.3" height="3.3" fill="#fff" stroke="#555" stroke-width="0.8"/>
<rect x="173.8" y="82.1" width="3.3" height="3.3" fill="#fff" stroke="#333" stroke-width="0.8"/>
<rect x="176.0" y="81.0" width="3.3" height="3.3" fill="#fff" stroke="#333" stroke-width="0.8"/>
<rect x="178.3" y="80.7" width="3.3" height="3.3" fill="#fff" stroke="#333" stroke-width="0.8"/>
<rect x="180.6" y="79.8" width="3.3" height="3.3" fill="#fff" stroke="#333" stroke-width="0.8"/>
<rect x="181.9" y="78.8" width="3.4" height="3.4" fill="#111"/>
<rect x="184.4" y="78.2" width="3.3" height="3.3" fill="#fff" stroke="#333" stroke-width="0.8"/>
<rect x="185.5" y="77.5" width="3.3" height="3.3" fill="#fff" stroke="#333" stroke-width="0.8"/>
<rect x="187.6" y="77.5" width="3.3" height="3.3" fill="#fff" stroke="#333" stroke-width="0.8"/>
<rect x="189.3" y="76.7" width="3.4" height="3.4" fill="#111"/>
<rect x="191.1" y="75.8" width="3.3" height="3.3" fill="#fff" stroke="#333" stroke-width="0.8"/>
<rect x="193.0" y="75.1" width="3.3" height="3.3" fill="#fff" stroke="#333" stroke-width="0.8"/>
<rect x="194.5" y="74.6" width="3.3" height="3.3" fill="#fff" stroke="#333" stroke-width="0.8"/>
<rect x="196.3" y="74.4" width="3.3" height="3.3" fill="#fff" stroke="#333" stroke-width="0.8"/>
<rect x="198.5" y="73.6" width="3.3" height="3.3" fill="#fff" stroke="#333" stroke-width="0.8"/>
<rect x="200.9" y="72.2" width="3.4" height="3.4" fill="#111"/>
<rect x="202.6" y="72.1" width="3.3" height="3.3" fill="#fff" stroke="#333" stroke-width="0.8"/>
<rect x="204.5" y="71.0" width="3.3" height="3.3" fill="#fff" stroke="#333" stroke-width="0.8"/>
<rect x="206.1" y="70.6" width="3.3" height="3.3" fill="#fff" stroke="#333" stroke-width="0.8"/>
<rect x="208.4" y="70.3" width="3.3" height="3.3" fill="#fff" stroke="#333" stroke-width="0.8"/>
<rect x="209.9" y="69.4" width="3.4" height="3.4" fill="#111"/>
<rect x="211.6" y="69.0" width="3.3" height="3.3" fill="#fff" stroke="#333" stroke-width="0.8"/>
<rect x="212.7" y="68.7" width="3.3" height="3.3" fill="#fff" stroke="#333" stroke-width="0.8"/>
<rect x="215.0" y="67.4" width="3.4" height="3.4" fill="#111"/>
<rect x="216.8" y="67.2" width="3.3" height="3.3" fill="#fff" stroke="#333" stroke-width="0.8"/>
<rect x="219.0" y="66.3" width="3.3" height="3.3" fill="#fff" stroke="#1a1a1a" stroke-width="0.8"/>
<rect x="220.4" y="65.6" width="3.3" height="3.3" fill="#fff" stroke="#1a1a1a" stroke-width="0.8"/>
<rect x="222.0" y="65.2" width="3.3" height="3.3" fill="#fff" stroke="#1a1a1a" stroke-width="0.8"/>
<rect x="223.7" y="64.1" width="3.4" height="3.4" fill="#111"/>
<rect x="225.2" y="64.1" width="3.4" height="3.4" fill="#111"/>
<rect x="226.4" y="63.6" width="3.3" height="3.3" fill="#fff" stroke="#1a1a1a" stroke-width="0.8"/>
<rect x="227.5" y="63.5" width="3.3" height="3.3" fill="#fff" stroke="#1a1a1a" stroke-width="0.8"/>
<rect x="229.2" y="63.2" width="3.3" height="3.3" fill="#fff" stroke="#1a1a1a" stroke-width="0.8"/>
<rect x="231.4" y="62.8" width="3.3" height="3.3" fill="#fff" stroke="#1a1a1a" stroke-width="0.8"/>
<rect x="233.3" y="61.6" width="3.3" height="3.3" fill="#fff" stroke="#1a1a1a" stroke-width="0.8"/>
<rect x="234.9" y="61.5" width="3.3" height="3.3" fill="#fff" stroke="#1a1a1a" stroke-width="0.8"/>
<rect x="236.3" y="60.9" width="3.3" height="3.3" fill="#fff" stroke="#1a1a1a" stroke-width="0.8"/>
<rect x="238.1" y="60.3" width="3.4" height="3.4" fill="#111"/>
<rect x="239.6" y="59.9" width="3.3" height="3.3" fill="#fff" stroke="#1a1a1a" stroke-width="0.8"/>
<rect x="240.8" y="59.7" width="3.3" height="3.3" fill="#fff" stroke="#1a1a1a" stroke-width="0.8"/>
<rect x="242.6" y="59.4" width="3.3" height="3.3" fill="#fff" stroke="#1a1a1a" stroke-width="0.8"/>
<rect x="244.4" y="58.9" width="3.4" height="3.4" fill="#111"/>
<rect x="246.8" y="58.4" width="3.4" height="3.4" fill="#111"/>
<rect x="248.5" y="58.1" width="3.3" height="3.3" fill="#fff" stroke="#1a1a1a" stroke-width="0.8"/>
<rect x="249.6" y="57.3" width="3.3" height="3.3" fill="#fff" stroke="#1a1a1a" stroke-width="0.8"/>
<rect x="251.2" y="57.6" width="3.3" height="3.3" fill="#fff" stroke="#1a1a1a" stroke-width="0.8"/>
<rect x="252.6" y="56.9" width="3.3" height="3.3" fill="#fff" stroke="#1a1a1a" stroke-width="0.8"/>
<rect x="254.9" y="56.2" width="3.3" height="3.3" fill="#fff" stroke="#1a1a1a" stroke-width="0.8"/>
<rect x="255.9" y="56.3" width="3.4" height="3.4" fill="#111"/>
<rect x="258.3" y="55.7" width="3.3" height="3.3" fill="#fff" stroke="#1a1a1a" stroke-width="0.8"/>
<rect x="259.4" y="55.2" width="3.3" height="3.3" fill="#fff" stroke="#1a1a1a" stroke-width="0.8"/>
<rect x="261.6" y="55.0" width="3.3" height="3.3" fill="#fff" stroke="#1a1a1a" stroke-width="0.8"/>
<rect x="264.0" y="54.6" width="3.3" height="3.3" fill="#fff" stroke="#1a1a1a" stroke-width="0.8"/>
<rect x="265.3" y="54.0" width="3.3" height="3.3" fill="#fff" stroke="#1a1a1a" stroke-width="0.8"/>
<rect x="266.5" y="54.0" width="3.3" height="3.3" fill="#fff" stroke="#1a1a1a" stroke-width="0.8"/>
<rect x="268.0" y="53.8" width="3.3" height="3.3" fill="#fff" stroke="#1a1a1a" stroke-width="0.8"/>
<rect x="270.1" y="53.3" width="3.4" height="3.4" fill="#111"/>
<rect x="271.2" y="52.9" width="3.3" height="3.3" fill="#fff" stroke="#1a1a1a" stroke-width="0.8"/>
<rect x="272.5" y="52.9" width="3.4" height="3.4" fill="#111"/>
<rect x="274.6" y="52.5" width="3.4" height="3.4" fill="#111"/>
<rect x="276.9" y="51.6" width="3.4" height="3.4" fill="#111"/>
<rect x="278.2" y="51.1" width="3.3" height="3.3" fill="#fff" stroke="#1a1a1a" stroke-width="0.8"/>
<rect x="279.7" y="51.5" width="3.3" height="3.3" fill="#fff" stroke="#1a1a1a" stroke-width="0.8"/>
<rect x="280.8" y="51.0" width="3.3" height="3.3" fill="#fff" stroke="#1a1a1a" stroke-width="0.8"/>
<rect x="282.1" y="50.6" width="3.3" height="3.3" fill="#fff" stroke="#1a1a1a" stroke-width="0.8"/>
<rect x="284.0" y="50.3" width="3.4" height="3.4" fill="#111"/>
<rect x="285.4" y="50.2" width="3.3" height="3.3" fill="#fff" stroke="#1a1a1a" stroke-width="0.8"/>
<rect x="286.6" y="50.1" width="3.4" height="3.4" fill="#111"/>
<rect x="288.6" y="49.7" width="3.4" height="3.4" fill="#111"/>
<rect x="290.7" y="49.3" width="3.3" height="3.3" fill="#fff" stroke="#1a1a1a" stroke-width="0.8"/>
<rect x="292.5" y="49.1" width="3.3" height="3.3" fill="#fff" stroke="#1a1a1a" stroke-width="0.8"/>
<rect x="293.6" y="49.1" width="3.3" height="3.3" fill="#fff" stroke="#1a1a1a" stroke-width="0.8"/>
<rect x="295.3" y="48.6" width="3.3" height="3.3" fill="#fff" stroke="#1a1a1a" stroke-width="0.8"/>
<rect x="297.5" y="48.3" width="3.3" height="3.3" fill="#fff" stroke="#1a1a1a" stroke-width="0.8"/>
<rect x="299.7" y="48.1" width="3.3" height="3.3" fill="#fff" stroke="#1a1a1a" stroke-width="0.8"/>
<rect x="302.0" y="47.2" width="3.4" height="3.4" fill="#111"/>
<rect x="304.1" y="46.7" width="3.3" height="3.3" fill="#fff" stroke="#1a1a1a" stroke-width="0.8"/>
<rect x="305.9" y="46.1" width="3.3" height="3.3" fill="#fff" stroke="#1a1a1a" stroke-width="0.8"/>
<rect x="308.1" y="45.9" width="3.3" height="3.3" fill="#fff" stroke="#1a1a1a" stroke-width="0.8"/>
<rect x="310.3" y="45.4" width="3.3" height="3.3" fill="#fff" stroke="#1a1a1a" stroke-width="0.8"/>
<rect x="312.1" y="45.2" width="3.4" height="3.4" fill="#111"/>
<rect x="313.3" y="45.0" width="3.3" height="3.3" fill="#fff" stroke="#1a1a1a" stroke-width="0.8"/>
<line x1="151.3" x2="229.3" y1="132.6" y2="132.6" stroke="#000" stroke-width="1.8"/>
<line x1="179.9" x2="179.9" y1="129.4" y2="146" stroke="#000" stroke-width="1.5"/>
<ellipse cx="81.6" cy="198.9" rx="32.1" ry="21.9" fill="none" stroke="#000" stroke-width="1.6"/>
<line x1="82.9" y1="197.9" x2="49.1" y2="184.4" stroke="#000" stroke-width="1.6"/>
<polygon points="43.5,182.2 49.7,182.8 48.4,186.0" fill="#000"/>
<line x1="83.6" y1="197.5" x2="83.6" y2="242.6" stroke="#000" stroke-width="1.6"/>
<polygon points="83.6,248.6 81.9,242.6 85.3,242.6" fill="#000"/>
<line x1="241" y1="143.8" x2="225.9" y2="41.7" stroke="#000" stroke-width="1.6"/>
<polygon points="225,35.8 227.6,41.5 224.2,42.0" fill="#000"/>
<line x1="241" y1="143.8" x2="303.2" y2="118.3" stroke="#000" stroke-width="1.6"/>
<polygon points="308.8,116 303.9,119.8 302.6,116.7" fill="#000"/>
<line x1="43.4" x2="43.4" y1="31" y2="254" stroke="#5c5c5c" stroke-width="1.3"/>
<line x1="317" x2="317" y1="31" y2="254" stroke="#808080" stroke-width="1.5"/>
<line x1="41.5" x2="317.5" y1="31.5" y2="31.5" stroke="#000" stroke-width="2"/>
<line x1="39.5" x2="317.5" y1="253.9" y2="253.9" stroke="#000" stroke-width="2"/>
<line x1="43.5" x2="43.5" y1="32" y2="36.5" stroke="#000" stroke-width="1.2"/>
<line x1="60.6" x2="60.6" y1="32" y2="35" stroke="#000" stroke-width="1.2"/>
<line x1="77.7" x2="77.7" y1="32" y2="36.5" stroke="#000" stroke-width="1.2"/>
<line x1="94.7" x2="94.7" y1="32" y2="35" stroke="#000" stroke-width="1.2"/>
<line x1="111.8" x2="111.8" y1="32" y2="36.5" stroke="#000" stroke-width="1.2"/>
<line x1="128.9" x2="128.9" y1="32" y2="35" stroke="#000" stroke-width="1.2"/>
<line x1="146.0" x2="146.0" y1="32" y2="36.5" stroke="#000" stroke-width="1.2"/>
<line x1="163.1" x2="163.1" y1="32" y2="35" stroke="#000" stroke-width="1.2"/>
<line x1="180.2" x2="180.2" y1="32" y2="36.5" stroke="#000" stroke-width="1.2"/>
<line x1="197.2" x2="197.2" y1="32" y2="35" stroke="#000" stroke-width="1.2"/>
<line x1="214.3" x2="214.3" y1="32" y2="36.5" stroke="#000" stroke-width="1.2"/>
<line x1="231.4" x2="231.4" y1="32" y2="35" stroke="#000" stroke-width="1.2"/>
<line x1="248.5" x2="248.5" y1="32" y2="36.5" stroke="#000" stroke-width="1.2"/>
<line x1="265.6" x2="265.6" y1="32" y2="35" stroke="#000" stroke-width="1.2"/>
<line x1="282.6" x2="282.6" y1="32" y2="36.5" stroke="#000" stroke-width="1.2"/>
<line x1="299.7" x2="299.7" y1="32" y2="35" stroke="#000" stroke-width="1.2"/>
<line x1="316.8" x2="316.8" y1="32" y2="36.5" stroke="#000" stroke-width="1.2"/>
<line x1="43.5" x2="43.5" y1="254" y2="259" stroke="#000" stroke-width="1.2"/>
<line x1="66.3" x2="66.3" y1="254" y2="257" stroke="#000" stroke-width="1.2"/>
<line x1="89.0" x2="89.0" y1="254" y2="259" stroke="#000" stroke-width="1.2"/>
<line x1="111.8" x2="111.8" y1="254" y2="257" stroke="#000" stroke-width="1.2"/>
<line x1="134.6" x2="134.6" y1="254" y2="259" stroke="#000" stroke-width="1.2"/>
<line x1="157.4" x2="157.4" y1="254" y2="257" stroke="#000" stroke-width="1.2"/>
<line x1="180.2" x2="180.2" y1="254" y2="259" stroke="#000" stroke-width="1.2"/>
<line x1="202.9" x2="202.9" y1="254" y2="257" stroke="#000" stroke-width="1.2"/>
<line x1="225.7" x2="225.7" y1="254" y2="259" stroke="#000" stroke-width="1.2"/>
<line x1="248.5" x2="248.5" y1="254" y2="257" stroke="#000" stroke-width="1.2"/>
<line x1="271.2" x2="271.2" y1="254" y2="259" stroke="#000" stroke-width="1.2"/>
<line x1="294.0" x2="294.0" y1="254" y2="257" stroke="#000" stroke-width="1.2"/>
<line x1="316.8" x2="316.8" y1="254" y2="259" stroke="#000" stroke-width="1.2"/>
<line x1="38.900000000000006" x2="43.2" y1="254.49999999999997" y2="254.49999999999997" stroke="#000" stroke-width="1"/>
<line x1="40.900000000000006" x2="43.2" y1="234.2" y2="234.2" stroke="#000" stroke-width="1"/>
<line x1="38.900000000000006" x2="43.2" y1="213.89999999999998" y2="213.89999999999998" stroke="#000" stroke-width="1"/>
<line x1="40.900000000000006" x2="43.2" y1="193.6" y2="193.6" stroke="#000" stroke-width="1"/>
<line x1="38.900000000000006" x2="43.2" y1="173.29999999999998" y2="173.29999999999998" stroke="#000" stroke-width="1"/>
<line x1="40.900000000000006" x2="43.2" y1="153.0" y2="153.0" stroke="#000" stroke-width="1"/>
<line x1="38.900000000000006" x2="43.2" y1="132.7" y2="132.7" stroke="#000" stroke-width="1"/>
<line x1="40.900000000000006" x2="43.2" y1="112.39999999999999" y2="112.39999999999999" stroke="#000" stroke-width="1"/>
<line x1="38.900000000000006" x2="43.2" y1="92.1" y2="92.1" stroke="#000" stroke-width="1"/>
<line x1="40.900000000000006" x2="43.2" y1="71.8" y2="71.8" stroke="#000" stroke-width="1"/>
<line x1="38.900000000000006" x2="43.2" y1="51.5" y2="51.5" stroke="#000" stroke-width="1"/>
<line x1="312.9" x2="316.5" y1="254.49999999999997" y2="254.49999999999997" stroke="#000" stroke-width="1"/>
<line x1="314.1" x2="316.5" y1="234.2" y2="234.2" stroke="#000" stroke-width="1"/>
<line x1="312.9" x2="316.5" y1="213.89999999999998" y2="213.89999999999998" stroke="#000" stroke-width="1"/>
<line x1="314.1" x2="316.5" y1="193.6" y2="193.6" stroke="#000" stroke-width="1"/>
<line x1="312.9" x2="316.5" y1="173.29999999999998" y2="173.29999999999998" stroke="#000" stroke-width="1"/>
<line x1="314.1" x2="316.5" y1="153.0" y2="153.0" stroke="#000" stroke-width="1"/>
<line x1="312.9" x2="316.5" y1="132.7" y2="132.7" stroke="#000" stroke-width="1"/>
<line x1="314.1" x2="316.5" y1="112.39999999999999" y2="112.39999999999999" stroke="#000" stroke-width="1"/>
<line x1="312.9" x2="316.5" y1="92.1" y2="92.1" stroke="#000" stroke-width="1"/>
<line x1="314.1" x2="316.5" y1="71.8" y2="71.8" stroke="#000" stroke-width="1"/>
<line x1="312.9" x2="316.5" y1="51.5" y2="51.5" stroke="#000" stroke-width="1"/>
<text x="43.5" y="23.0" font-family="Liberation Sans, sans-serif" font-size="12.9" text-anchor="middle" transform="translate(43.5 0) scale(0.96 1) translate(-43.5 0)">-0.4</text>
<text x="77.7" y="23.0" font-family="Liberation Sans, sans-serif" font-size="12.9" text-anchor="middle" transform="translate(77.7 0) scale(0.96 1) translate(-77.7 0)">-0.3</text>
<text x="111.8" y="23.0" font-family="Liberation Sans, sans-serif" font-size="12.9" text-anchor="middle" transform="translate(111.8 0) scale(0.96 1) translate(-111.8 0)">-0.2</text>
<text x="146.0" y="23.0" font-family="Liberation Sans, sans-serif" font-size="12.9" text-anchor="middle" transform="translate(146.0 0) scale(0.96 1) translate(-146.0 0)">-0.1</text>
<text x="180.2" y="23.0" font-family="Liberation Sans, sans-serif" font-size="12.9" text-anchor="middle" transform="translate(180.2 0) scale(0.96 1) translate(-180.2 0)">0.0</text>
<text x="214.3" y="23.0" font-family="Liberation Sans, sans-serif" font-size="12.9" text-anchor="middle" transform="translate(214.3 0) scale(0.96 1) translate(-214.3 0)">0.1</text>
<text x="248.5" y="23.0" font-family="Liberation Sans, sans-serif" font-size="12.9" text-anchor="middle" transform="translate(248.5 0) scale(0.96 1) translate(-248.5 0)">0.2</text>
<text x="282.6" y="23.0" font-family="Liberation Sans, sans-serif" font-size="12.9" text-anchor="middle" transform="translate(282.6 0) scale(0.96 1) translate(-282.6 0)">0.3</text>
<text x="316.8" y="23.0" font-family="Liberation Sans, sans-serif" font-size="12.9" text-anchor="middle" transform="translate(316.8 0) scale(0.96 1) translate(-316.8 0)">0.4</text>
<text x="43.5" y="272.0" font-family="Liberation Sans, sans-serif" font-size="12.6" text-anchor="middle" transform="translate(43.5 0) scale(0.86 1) translate(-43.5 0)">0</text>
<text x="89.0" y="272.0" font-family="Liberation Sans, sans-serif" font-size="12.6" text-anchor="middle" transform="translate(89.0 0) scale(0.86 1) translate(-89.0 0)">50</text>
<text x="134.6" y="272.0" font-family="Liberation Sans, sans-serif" font-size="12.6" text-anchor="middle" transform="translate(134.6 0) scale(0.86 1) translate(-134.6 0)">100</text>
<text x="180.2" y="272.0" font-family="Liberation Sans, sans-serif" font-size="12.6" text-anchor="middle" transform="translate(180.2 0) scale(0.86 1) translate(-180.2 0)">150</text>
<text x="225.7" y="272.0" font-family="Liberation Sans, sans-serif" font-size="12.6" text-anchor="middle" transform="translate(225.7 0) scale(0.86 1) translate(-225.7 0)">200</text>
<text x="271.2" y="272.0" font-family="Liberation Sans, sans-serif" font-size="12.6" text-anchor="middle" transform="translate(271.2 0) scale(0.86 1) translate(-271.2 0)">250</text>
<text x="316.8" y="272.0" font-family="Liberation Sans, sans-serif" font-size="12.6" text-anchor="middle" transform="translate(316.8 0) scale(0.86 1) translate(-316.8 0)">300</text>
<text x="36.9" y="257.5" font-family="Liberation Sans, sans-serif" font-size="11.4" text-anchor="end">0</text>
<text x="36.9" y="216.9" font-family="Liberation Sans, sans-serif" font-size="11.4" text-anchor="end">20</text>
<text x="36.9" y="176.3" font-family="Liberation Sans, sans-serif" font-size="11.4" text-anchor="end">40</text>
<text x="36.9" y="135.7" font-family="Liberation Sans, sans-serif" font-size="11.4" text-anchor="end">60</text>
<text x="36.9" y="95.1" font-family="Liberation Sans, sans-serif" font-size="11.4" text-anchor="end">80</text>
<text x="36.9" y="54.5" font-family="Liberation Sans, sans-serif" font-size="11.4" text-anchor="end">100</text>
<text x="321.0" y="257.1" font-family="Liberation Sans, sans-serif" font-size="9.6" transform="translate(321.0 0) scale(0.88 1) translate(-321.0 0)">0</text>
<text x="321.0" y="216.5" font-family="Liberation Sans, sans-serif" font-size="9.6" transform="translate(321.0 0) scale(0.88 1) translate(-321.0 0)">20</text>
<text x="321.0" y="175.9" font-family="Liberation Sans, sans-serif" font-size="9.6" transform="translate(321.0 0) scale(0.88 1) translate(-321.0 0)">40</text>
<text x="321.0" y="135.3" font-family="Liberation Sans, sans-serif" font-size="9.6" transform="translate(321.0 0) scale(0.88 1) translate(-321.0 0)">60</text>
<text x="321.0" y="94.7" font-family="Liberation Sans, sans-serif" font-size="9.6" transform="translate(321.0 0) scale(0.88 1) translate(-321.0 0)">80</text>
<text x="321.0" y="54.1" font-family="Liberation Sans, sans-serif" font-size="9.6" transform="translate(321.0 0) scale(0.88 1) translate(-321.0 0)">100</text>
<text x="157.7" y="8.5" font-family="Liberation Serif, serif" font-weight="bold" font-size="12.3" textLength="45.8" lengthAdjust="spacingAndGlyphs">Voltage,V</text>
<text x="138.2" y="292.9" font-family="Liberation Serif, serif" font-weight="bold" font-size="13.0" textLength="84.2" lengthAdjust="spacingAndGlyphs">Temperature,K</text>
<text transform="translate(9.9 198.6) rotate(-90)" x="0" y="0" font-family="Liberation Serif, serif" font-weight="bold" font-size="13.4" textLength="92.6" lengthAdjust="spacingAndGlyphs">Resiatance,ohm</text>
<text transform="translate(347.9 172.3) rotate(-90)" x="0" y="0" font-family="Liberation Sans, sans-serif" font-size="12" textLength="45" lengthAdjust="spacingAndGlyphs" stroke="#000" stroke-width="0.25">Rd,ohm</text>
</svg></body></html>
